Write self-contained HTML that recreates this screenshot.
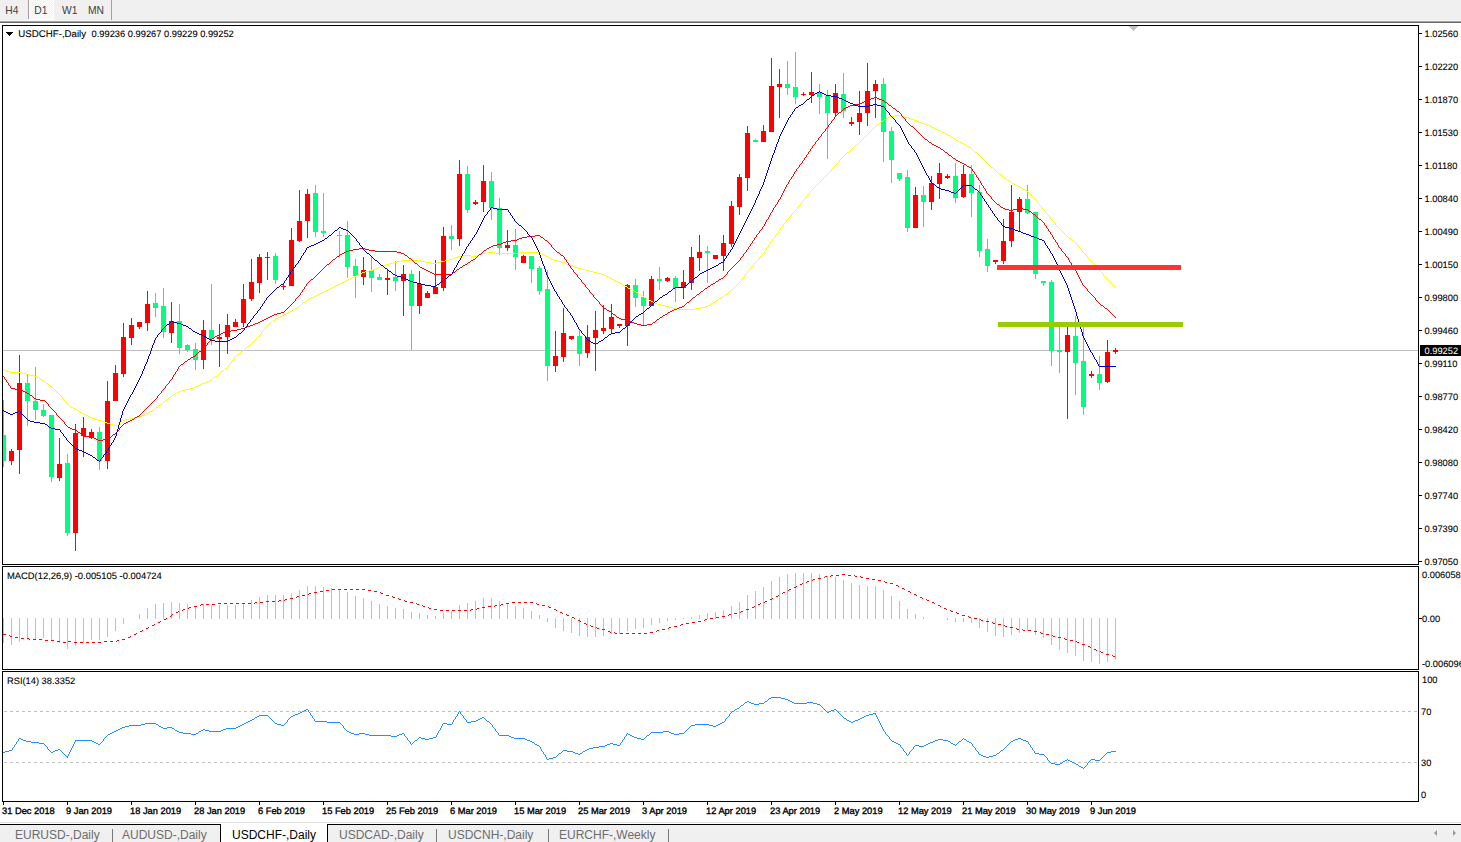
<!DOCTYPE html>
<html><head><meta charset="utf-8"><title>USDCHF-,Daily</title>
<style>
html,body{margin:0;padding:0;background:#fff;}
body{width:1461px;height:842px;overflow:hidden;position:relative;font-family:'Liberation Sans', Arial, sans-serif;}
#tb{position:absolute;left:0;top:0;width:1461px;height:20px;background:#f0f0f0;}
#tb span{position:absolute;top:4.5px;font-size:10.3px;color:#404040;}
.sep{position:absolute;width:1px;background:#a0a0a0;}
#d1{position:absolute;left:29px;top:0;width:24px;height:19px;background:repeating-conic-gradient(#fff 0 25%,#f0f0f0 0 50%) 0 0/2px 2px;border-right:1px solid #fff;border-bottom:1px solid #fff;}
#l1{position:absolute;left:0;top:20px;width:1461px;height:1px;background:#f5f5f5;}
#l2{position:absolute;left:0;top:21px;width:1461px;height:1px;background:#a5a5a5;}
#l3{position:absolute;left:0;top:22px;width:1461px;height:1px;background:#6a6a6a;}
svg{position:absolute;left:0;top:0;}
svg text{font-family:'Liberation Sans', Arial, sans-serif;font-size:9.3px;fill:#000;stroke:#000;stroke-width:0.1px;}
svg text.dt{stroke-width:0.35px;}
#bot1{position:absolute;left:0;top:822px;width:1461px;height:1px;background:#e3e3e3;}
#bot2{position:absolute;left:0;top:824px;width:1461px;height:1px;background:#000;}
#tabs{position:absolute;left:0;top:825px;width:1461px;height:17px;background:#f0f0f0;}
.tab{position:absolute;top:3px;font-size:12px;color:#6d6d6d;white-space:nowrap;}
.tsep{position:absolute;top:4px;width:1px;height:13px;background:#7a7a7a;}
#act{position:absolute;left:220px;top:824px;width:106px;height:18px;background:#fff;border-left:1px solid #000;border-right:1px solid #000;}
.arr{position:absolute;top:830px;width:0;height:0;border-top:3px solid transparent;border-bottom:3px solid transparent;}
</style></head><body>
<div id="tb">
<span style="left:5.3px">H4</span>
<div id="d1"></div>
<span style="left:34.3px">D1</span>
<span style="left:62px">W1</span>
<span style="left:88px">MN</span>
<div class="sep" style="left:28px;top:0;height:19px"></div>
<div class="sep" style="left:111px;top:0;height:21px"></div>
</div>
<div id="l1"></div><div id="l2"></div><div id="l3"></div>
<svg width="1461" height="842" viewBox="0 0 1461 842" shape-rendering="crispEdges">
<defs><clipPath id="cm"><rect x="3" y="26" width="1415" height="538"/></clipPath><clipPath id="cs"><rect x="3" y="567" width="1415" height="102"/></clipPath><clipPath id="cr"><rect x="3" y="672" width="1415" height="129"/></clipPath></defs>
<g clip-path="url(#cm)">
<rect x="3" y="350" width="1415" height="1" fill="#c0c0c0"/>
<rect x="3" y="400" width="1" height="67" fill="#00ff7f"/>
<rect x="1" y="435" width="5" height="26" fill="#00ff7f"/>
<rect x="11" y="449" width="1" height="16" fill="#ff0000"/>
<rect x="9" y="451" width="5" height="10" fill="#ff0000"/>
<rect x="19" y="355" width="1" height="119" fill="#ff0000"/>
<rect x="17" y="383" width="5" height="67" fill="#ff0000"/>
<rect x="27" y="375" width="1" height="51" fill="#00ff7f"/>
<rect x="25" y="383" width="5" height="18" fill="#00ff7f"/>
<rect x="35" y="367" width="1" height="53" fill="#00ff7f"/>
<rect x="33" y="401" width="5" height="9" fill="#00ff7f"/>
<rect x="43" y="404" width="1" height="13" fill="#00ff7f"/>
<rect x="41" y="410" width="5" height="6" fill="#00ff7f"/>
<rect x="51" y="415" width="1" height="67" fill="#00ff7f"/>
<rect x="49" y="415" width="5" height="62" fill="#00ff7f"/>
<rect x="59" y="438" width="1" height="43" fill="#ff0000"/>
<rect x="57" y="464" width="5" height="14" fill="#ff0000"/>
<rect x="67" y="454" width="1" height="82" fill="#00ff7f"/>
<rect x="65" y="463" width="5" height="70" fill="#00ff7f"/>
<rect x="75" y="424" width="1" height="127" fill="#ff0000"/>
<rect x="73" y="433" width="5" height="100" fill="#ff0000"/>
<rect x="83" y="417" width="1" height="40" fill="#ff0000"/>
<rect x="81" y="428" width="5" height="8" fill="#ff0000"/>
<rect x="91" y="429" width="1" height="10" fill="#ff0000"/>
<rect x="89" y="432" width="5" height="6" fill="#ff0000"/>
<rect x="99" y="427" width="1" height="43" fill="#00ff7f"/>
<rect x="97" y="432" width="5" height="29" fill="#00ff7f"/>
<rect x="107" y="381" width="1" height="88" fill="#ff0000"/>
<rect x="105" y="401" width="5" height="60" fill="#ff0000"/>
<rect x="115" y="365" width="1" height="36" fill="#ff0000"/>
<rect x="113" y="373" width="5" height="28" fill="#ff0000"/>
<rect x="123" y="323" width="1" height="54" fill="#ff0000"/>
<rect x="121" y="337" width="5" height="37" fill="#ff0000"/>
<rect x="131" y="318" width="1" height="27" fill="#ff0000"/>
<rect x="129" y="325" width="5" height="13" fill="#ff0000"/>
<rect x="139" y="322" width="1" height="7" fill="#ff0000"/>
<rect x="137" y="322" width="5" height="5" fill="#ff0000"/>
<rect x="147" y="291" width="1" height="40" fill="#ff0000"/>
<rect x="145" y="304" width="5" height="19" fill="#ff0000"/>
<rect x="155" y="293" width="1" height="24" fill="#00ff7f"/>
<rect x="153" y="303" width="5" height="5" fill="#00ff7f"/>
<rect x="163" y="288" width="1" height="50" fill="#00ff7f"/>
<rect x="161" y="306" width="5" height="26" fill="#00ff7f"/>
<rect x="171" y="302" width="1" height="41" fill="#ff0000"/>
<rect x="169" y="321" width="5" height="12" fill="#ff0000"/>
<rect x="179" y="304" width="1" height="50" fill="#00ff7f"/>
<rect x="177" y="321" width="5" height="27" fill="#00ff7f"/>
<rect x="187" y="344" width="1" height="8" fill="#00ff7f"/>
<rect x="185" y="345" width="5" height="5" fill="#00ff7f"/>
<rect x="195" y="343" width="1" height="27" fill="#00ff7f"/>
<rect x="193" y="349" width="5" height="11" fill="#00ff7f"/>
<rect x="203" y="320" width="1" height="49" fill="#ff0000"/>
<rect x="201" y="330" width="5" height="30" fill="#ff0000"/>
<rect x="211" y="284" width="1" height="61" fill="#00ff7f"/>
<rect x="209" y="330" width="5" height="9" fill="#00ff7f"/>
<rect x="219" y="324" width="1" height="43" fill="#ff0000"/>
<rect x="217" y="337" width="5" height="2" fill="#ff0000"/>
<rect x="227" y="314" width="1" height="40" fill="#ff0000"/>
<rect x="225" y="325" width="5" height="12" fill="#ff0000"/>
<rect x="235" y="319" width="1" height="8" fill="#ff0000"/>
<rect x="233" y="322" width="5" height="5" fill="#ff0000"/>
<rect x="243" y="284" width="1" height="43" fill="#ff0000"/>
<rect x="241" y="299" width="5" height="24" fill="#ff0000"/>
<rect x="251" y="259" width="1" height="42" fill="#ff0000"/>
<rect x="249" y="282" width="5" height="17" fill="#ff0000"/>
<rect x="259" y="254" width="1" height="39" fill="#ff0000"/>
<rect x="257" y="257" width="5" height="26" fill="#ff0000"/>
<rect x="267" y="252" width="1" height="28" fill="#ff0000"/>
<rect x="265" y="257" width="5" height="1" fill="#ff0000"/>
<rect x="275" y="253" width="1" height="31" fill="#00ff7f"/>
<rect x="273" y="256" width="5" height="24" fill="#00ff7f"/>
<rect x="283" y="283" width="1" height="7" fill="#ff0000"/>
<rect x="281" y="286" width="5" height="1" fill="#ff0000"/>
<rect x="291" y="228" width="1" height="58" fill="#ff0000"/>
<rect x="289" y="240" width="5" height="46" fill="#ff0000"/>
<rect x="299" y="190" width="1" height="52" fill="#ff0000"/>
<rect x="297" y="221" width="5" height="20" fill="#ff0000"/>
<rect x="307" y="189" width="1" height="49" fill="#ff0000"/>
<rect x="305" y="194" width="5" height="27" fill="#ff0000"/>
<rect x="315" y="185" width="1" height="52" fill="#00ff7f"/>
<rect x="313" y="193" width="5" height="39" fill="#00ff7f"/>
<rect x="323" y="193" width="1" height="44" fill="#00ff7f"/>
<rect x="321" y="231" width="5" height="2" fill="#00ff7f"/>
<rect x="339" y="231" width="1" height="26" fill="#00ff7f"/>
<rect x="337" y="235" width="5" height="1" fill="#00ff7f"/>
<rect x="347" y="221" width="1" height="57" fill="#00ff7f"/>
<rect x="345" y="235" width="5" height="32" fill="#00ff7f"/>
<rect x="355" y="259" width="1" height="39" fill="#00ff7f"/>
<rect x="353" y="266" width="5" height="10" fill="#00ff7f"/>
<rect x="363" y="257" width="1" height="28" fill="#ff0000"/>
<rect x="361" y="270" width="5" height="7" fill="#ff0000"/>
<rect x="371" y="257" width="1" height="35" fill="#00ff7f"/>
<rect x="369" y="270" width="5" height="8" fill="#00ff7f"/>
<rect x="379" y="274" width="1" height="6" fill="#00ff7f"/>
<rect x="377" y="277" width="5" height="3" fill="#00ff7f"/>
<rect x="387" y="270" width="1" height="25" fill="#ff0000"/>
<rect x="385" y="278" width="5" height="2" fill="#ff0000"/>
<rect x="395" y="261" width="1" height="30" fill="#00ff7f"/>
<rect x="393" y="277" width="5" height="4" fill="#00ff7f"/>
<rect x="403" y="265" width="1" height="51" fill="#ff0000"/>
<rect x="401" y="274" width="5" height="7" fill="#ff0000"/>
<rect x="411" y="270" width="1" height="80" fill="#00ff7f"/>
<rect x="409" y="274" width="5" height="32" fill="#00ff7f"/>
<rect x="419" y="271" width="1" height="43" fill="#ff0000"/>
<rect x="417" y="284" width="5" height="22" fill="#ff0000"/>
<rect x="427" y="291" width="1" height="7" fill="#ff0000"/>
<rect x="425" y="293" width="5" height="5" fill="#ff0000"/>
<rect x="435" y="260" width="1" height="34" fill="#ff0000"/>
<rect x="433" y="287" width="5" height="7" fill="#ff0000"/>
<rect x="443" y="227" width="1" height="64" fill="#ff0000"/>
<rect x="441" y="236" width="5" height="52" fill="#ff0000"/>
<rect x="451" y="225" width="1" height="25" fill="#00ff7f"/>
<rect x="449" y="236" width="5" height="3" fill="#00ff7f"/>
<rect x="459" y="160" width="1" height="86" fill="#ff0000"/>
<rect x="457" y="174" width="5" height="65" fill="#ff0000"/>
<rect x="467" y="166" width="1" height="47" fill="#00ff7f"/>
<rect x="465" y="174" width="5" height="36" fill="#00ff7f"/>
<rect x="475" y="200" width="1" height="5" fill="#ff0000"/>
<rect x="473" y="202" width="5" height="2" fill="#ff0000"/>
<rect x="483" y="165" width="1" height="47" fill="#ff0000"/>
<rect x="481" y="181" width="5" height="21" fill="#ff0000"/>
<rect x="491" y="172" width="1" height="48" fill="#00ff7f"/>
<rect x="489" y="181" width="5" height="27" fill="#00ff7f"/>
<rect x="499" y="198" width="1" height="57" fill="#00ff7f"/>
<rect x="497" y="208" width="5" height="40" fill="#00ff7f"/>
<rect x="507" y="230" width="1" height="21" fill="#ff0000"/>
<rect x="505" y="245" width="5" height="3" fill="#ff0000"/>
<rect x="515" y="229" width="1" height="41" fill="#00ff7f"/>
<rect x="513" y="245" width="5" height="12" fill="#00ff7f"/>
<rect x="523" y="255" width="1" height="8" fill="#ff0000"/>
<rect x="521" y="256" width="5" height="7" fill="#ff0000"/>
<rect x="531" y="256" width="1" height="27" fill="#00ff7f"/>
<rect x="529" y="256" width="5" height="13" fill="#00ff7f"/>
<rect x="539" y="266" width="1" height="29" fill="#00ff7f"/>
<rect x="537" y="268" width="5" height="23" fill="#00ff7f"/>
<rect x="547" y="270" width="1" height="111" fill="#00ff7f"/>
<rect x="545" y="289" width="5" height="77" fill="#00ff7f"/>
<rect x="555" y="331" width="1" height="41" fill="#ff0000"/>
<rect x="553" y="356" width="5" height="10" fill="#ff0000"/>
<rect x="563" y="308" width="1" height="54" fill="#ff0000"/>
<rect x="561" y="333" width="5" height="24" fill="#ff0000"/>
<rect x="571" y="336" width="1" height="4" fill="#ff0000"/>
<rect x="569" y="336" width="5" height="3" fill="#ff0000"/>
<rect x="579" y="330" width="1" height="36" fill="#00ff7f"/>
<rect x="577" y="336" width="5" height="18" fill="#00ff7f"/>
<rect x="587" y="325" width="1" height="33" fill="#ff0000"/>
<rect x="585" y="337" width="5" height="16" fill="#ff0000"/>
<rect x="595" y="311" width="1" height="60" fill="#ff0000"/>
<rect x="593" y="330" width="5" height="8" fill="#ff0000"/>
<rect x="603" y="305" width="1" height="29" fill="#ff0000"/>
<rect x="601" y="328" width="5" height="3" fill="#ff0000"/>
<rect x="611" y="304" width="1" height="30" fill="#ff0000"/>
<rect x="609" y="317" width="5" height="12" fill="#ff0000"/>
<rect x="619" y="324" width="1" height="4" fill="#ff0000"/>
<rect x="617" y="324" width="5" height="2" fill="#ff0000"/>
<rect x="627" y="284" width="1" height="62" fill="#ff0000"/>
<rect x="625" y="285" width="5" height="41" fill="#ff0000"/>
<rect x="635" y="279" width="1" height="28" fill="#00ff7f"/>
<rect x="633" y="285" width="5" height="13" fill="#00ff7f"/>
<rect x="643" y="291" width="1" height="34" fill="#00ff7f"/>
<rect x="641" y="297" width="5" height="9" fill="#00ff7f"/>
<rect x="651" y="276" width="1" height="30" fill="#ff0000"/>
<rect x="649" y="279" width="5" height="27" fill="#ff0000"/>
<rect x="659" y="267" width="1" height="23" fill="#00ff7f"/>
<rect x="657" y="279" width="5" height="2" fill="#00ff7f"/>
<rect x="667" y="277" width="1" height="5" fill="#ff0000"/>
<rect x="665" y="278" width="5" height="3" fill="#ff0000"/>
<rect x="675" y="276" width="1" height="26" fill="#00ff7f"/>
<rect x="673" y="278" width="5" height="10" fill="#00ff7f"/>
<rect x="683" y="270" width="1" height="29" fill="#ff0000"/>
<rect x="681" y="282" width="5" height="6" fill="#ff0000"/>
<rect x="691" y="247" width="1" height="43" fill="#ff0000"/>
<rect x="689" y="257" width="5" height="26" fill="#ff0000"/>
<rect x="699" y="235" width="1" height="36" fill="#ff0000"/>
<rect x="697" y="252" width="5" height="6" fill="#ff0000"/>
<rect x="707" y="246" width="1" height="37" fill="#00ff7f"/>
<rect x="705" y="251" width="5" height="2" fill="#00ff7f"/>
<rect x="715" y="255" width="1" height="4" fill="#ff0000"/>
<rect x="713" y="255" width="5" height="4" fill="#ff0000"/>
<rect x="723" y="235" width="1" height="36" fill="#ff0000"/>
<rect x="721" y="243" width="5" height="13" fill="#ff0000"/>
<rect x="731" y="201" width="1" height="46" fill="#ff0000"/>
<rect x="729" y="206" width="5" height="38" fill="#ff0000"/>
<rect x="739" y="174" width="1" height="41" fill="#ff0000"/>
<rect x="737" y="177" width="5" height="30" fill="#ff0000"/>
<rect x="747" y="126" width="1" height="65" fill="#ff0000"/>
<rect x="745" y="133" width="5" height="45" fill="#ff0000"/>
<rect x="755" y="139" width="1" height="3" fill="#00ff7f"/>
<rect x="753" y="140" width="5" height="2" fill="#00ff7f"/>
<rect x="763" y="125" width="1" height="17" fill="#ff0000"/>
<rect x="761" y="131" width="5" height="11" fill="#ff0000"/>
<rect x="771" y="58" width="1" height="74" fill="#ff0000"/>
<rect x="769" y="86" width="5" height="46" fill="#ff0000"/>
<rect x="779" y="69" width="1" height="49" fill="#ff0000"/>
<rect x="777" y="84" width="5" height="3" fill="#ff0000"/>
<rect x="787" y="61" width="1" height="34" fill="#00ff7f"/>
<rect x="785" y="84" width="5" height="4" fill="#00ff7f"/>
<rect x="795" y="52" width="1" height="52" fill="#00ff7f"/>
<rect x="793" y="87" width="5" height="10" fill="#00ff7f"/>
<rect x="803" y="92" width="1" height="4" fill="#ff0000"/>
<rect x="801" y="94" width="5" height="1" fill="#ff0000"/>
<rect x="811" y="72" width="1" height="31" fill="#ff0000"/>
<rect x="809" y="92" width="5" height="3" fill="#ff0000"/>
<rect x="819" y="84" width="1" height="30" fill="#00ff7f"/>
<rect x="817" y="92" width="5" height="5" fill="#00ff7f"/>
<rect x="827" y="90" width="1" height="69" fill="#00ff7f"/>
<rect x="825" y="96" width="5" height="17" fill="#00ff7f"/>
<rect x="835" y="84" width="1" height="32" fill="#ff0000"/>
<rect x="833" y="93" width="5" height="20" fill="#ff0000"/>
<rect x="843" y="73" width="1" height="45" fill="#00ff7f"/>
<rect x="841" y="94" width="5" height="17" fill="#00ff7f"/>
<rect x="851" y="117" width="1" height="9" fill="#ff0000"/>
<rect x="849" y="122" width="5" height="2" fill="#ff0000"/>
<rect x="859" y="91" width="1" height="44" fill="#ff0000"/>
<rect x="857" y="113" width="5" height="9" fill="#ff0000"/>
<rect x="867" y="63" width="1" height="63" fill="#ff0000"/>
<rect x="865" y="91" width="5" height="22" fill="#ff0000"/>
<rect x="875" y="80" width="1" height="38" fill="#ff0000"/>
<rect x="873" y="84" width="5" height="7" fill="#ff0000"/>
<rect x="883" y="78" width="1" height="84" fill="#00ff7f"/>
<rect x="881" y="84" width="5" height="48" fill="#00ff7f"/>
<rect x="891" y="127" width="1" height="56" fill="#00ff7f"/>
<rect x="889" y="131" width="5" height="29" fill="#00ff7f"/>
<rect x="899" y="173" width="1" height="8" fill="#00ff7f"/>
<rect x="897" y="173" width="5" height="6" fill="#00ff7f"/>
<rect x="907" y="170" width="1" height="62" fill="#00ff7f"/>
<rect x="905" y="177" width="5" height="51" fill="#00ff7f"/>
<rect x="915" y="187" width="1" height="41" fill="#ff0000"/>
<rect x="913" y="195" width="5" height="33" fill="#ff0000"/>
<rect x="923" y="186" width="1" height="41" fill="#00ff7f"/>
<rect x="921" y="195" width="5" height="7" fill="#00ff7f"/>
<rect x="931" y="176" width="1" height="34" fill="#ff0000"/>
<rect x="929" y="183" width="5" height="19" fill="#ff0000"/>
<rect x="939" y="163" width="1" height="36" fill="#ff0000"/>
<rect x="937" y="173" width="5" height="11" fill="#ff0000"/>
<rect x="947" y="174" width="1" height="5" fill="#ff0000"/>
<rect x="945" y="176" width="5" height="2" fill="#ff0000"/>
<rect x="955" y="163" width="1" height="40" fill="#00ff7f"/>
<rect x="953" y="176" width="5" height="22" fill="#00ff7f"/>
<rect x="963" y="165" width="1" height="33" fill="#ff0000"/>
<rect x="961" y="174" width="5" height="23" fill="#ff0000"/>
<rect x="971" y="165" width="1" height="52" fill="#00ff7f"/>
<rect x="969" y="174" width="5" height="19" fill="#00ff7f"/>
<rect x="979" y="185" width="1" height="72" fill="#00ff7f"/>
<rect x="977" y="192" width="5" height="59" fill="#00ff7f"/>
<rect x="987" y="239" width="1" height="33" fill="#00ff7f"/>
<rect x="985" y="249" width="5" height="17" fill="#00ff7f"/>
<rect x="995" y="260" width="1" height="4" fill="#ff0000"/>
<rect x="993" y="260" width="5" height="2" fill="#ff0000"/>
<rect x="1003" y="219" width="1" height="45" fill="#ff0000"/>
<rect x="1001" y="241" width="5" height="20" fill="#ff0000"/>
<rect x="1011" y="185" width="1" height="62" fill="#ff0000"/>
<rect x="1009" y="212" width="5" height="29" fill="#ff0000"/>
<rect x="1019" y="197" width="1" height="35" fill="#ff0000"/>
<rect x="1017" y="199" width="5" height="13" fill="#ff0000"/>
<rect x="1027" y="185" width="1" height="29" fill="#00ff7f"/>
<rect x="1025" y="199" width="5" height="14" fill="#00ff7f"/>
<rect x="1035" y="212" width="1" height="67" fill="#00ff7f"/>
<rect x="1033" y="212" width="5" height="62" fill="#00ff7f"/>
<rect x="1043" y="281" width="1" height="5" fill="#00ff7f"/>
<rect x="1041" y="281" width="5" height="2" fill="#00ff7f"/>
<rect x="1051" y="280" width="1" height="86" fill="#00ff7f"/>
<rect x="1049" y="282" width="5" height="69" fill="#00ff7f"/>
<rect x="1059" y="327" width="1" height="46" fill="#00ff7f"/>
<rect x="1057" y="350" width="5" height="2" fill="#00ff7f"/>
<rect x="1067" y="327" width="1" height="92" fill="#ff0000"/>
<rect x="1065" y="335" width="5" height="17" fill="#ff0000"/>
<rect x="1075" y="316" width="1" height="79" fill="#00ff7f"/>
<rect x="1073" y="336" width="5" height="27" fill="#00ff7f"/>
<rect x="1083" y="327" width="1" height="88" fill="#00ff7f"/>
<rect x="1081" y="361" width="5" height="46" fill="#00ff7f"/>
<rect x="1091" y="371" width="1" height="7" fill="#ff0000"/>
<rect x="1089" y="374" width="5" height="2" fill="#ff0000"/>
<rect x="1099" y="356" width="1" height="34" fill="#00ff7f"/>
<rect x="1097" y="374" width="5" height="9" fill="#00ff7f"/>
<rect x="1107" y="340" width="1" height="43" fill="#ff0000"/>
<rect x="1105" y="352" width="5" height="30" fill="#ff0000"/>
<rect x="1115" y="348" width="1" height="6" fill="#ff0000"/>
<rect x="1113" y="350" width="5" height="2" fill="#ff0000"/>
<path d="M895 115.5h6M890 116.5h5M901 116.5h4M888 117.5h2M905 117.5h4M886 118.5h2M909 118.5h2M884 119.5h2M911 119.5h3M883 120.5h1M914 120.5h3M881 121.5h2M917 121.5h2M880 122.5h1M919 122.5h3M879 123.5h1M922 123.5h3M877 124.5h2M925 124.5h2M876 125.5h1M927 125.5h3M875 126.5h1M930 126.5h2M874 127.5h1M932 127.5h2M873 128.5h1M934 128.5h2M872 129.5h1M936 129.5h2M871 130.5h1M938 130.5h2M870 131.5h1M940 131.5h2M869 132.5h1M942 132.5h2M868 133.5h1M944 133.5h2M867 134.5h1M946 134.5h2M866 135.5h1M948 135.5h2M865 136.5h1M950 136.5h1M864 137.5h1M951 137.5h2M863 138.5h1M953 138.5h2M862 139.5h1M955 139.5h1M861 140.5h1M956 140.5h2M860 141.5h1M958 141.5h2M859 142.5h1M960 142.5h2M858 143.5h1M962 143.5h2M857 144.5h1M964 144.5h2M855 145.5h2M966 145.5h1M854 146.5h1M967 146.5h2M853 147.5h1M969 147.5h2M852 148.5h1M971 148.5h1M851 149.5h1M972 149.5h1M850 150.5h1M973 150.5h1M849 151.5h1M974 151.5h1M847 152.5h2M975 152.5h2M846 153.5h1M977 153.5h1M845 154.5h1M978 154.5h1M844 155.5h1M979 155.5h1M843 156.5h1M980 156.5h1M842 157.5h1M981 157.5h1M841 158.5h1M982 158.5h1M840 159.5h1M983 159.5h1M839 160.5h1M984 160.5h1M839 161.5h1M985 161.5h1M838 162.5h1M986 162.5h1M837 163.5h1M987 163.5h1M836 164.5h1M988 164.5h1M835 165.5h1M989 165.5h1M834 166.5h1M990 166.5h1M833 167.5h1M991 167.5h2M832 168.5h1M993 168.5h1M831 169.5h1M994 169.5h1M831 170.5h1M995 170.5h1M830 171.5h1M996 171.5h1M829 172.5h1M997 172.5h1M828 173.5h1M998 173.5h1M827 174.5h1M999 174.5h2M826 175.5h1M1001 175.5h1M825 176.5h1M1002 176.5h1M824 177.5h1M1003 177.5h1M823 178.5h1M1004 178.5h2M822 179.5h1M1006 179.5h1M821 180.5h1M1007 180.5h2M820 181.5h1M1009 181.5h2M819 182.5h1M1011 182.5h1M818 183.5h1M1012 183.5h2M817 184.5h1M1014 184.5h2M816 185.5h1M1016 185.5h2M815 186.5h1M1018 186.5h2M814 187.5h1M1020 187.5h2M813 188.5h1M1022 188.5h1M812 189.5h1M1023 189.5h2M811 190.5h1M1025 190.5h2M810 191.5h1M1027 191.5h1M809 192.5h1M1028 192.5h1M809 193.5h1M1029 193.5h1M808 194.5h1M1030 194.5h1M807 195.5h1M1031 195.5h1M806 196.5h1M1032 196.5h1M805 197.5h1M1033 197.5h1M805 198.5h1M1034 198.5h1M804 199.5h1M1035 199.5h1M803 200.5h1M1036 200.5h1M802 201.5h1M1037 201.5h1M801 202.5h1M1037 202.5h1M801 203.5h1M1038 203.5h1M800 204.5h1M1039 204.5h1M799 205.5h1M1040 205.5h1M798 206.5h1M1041 206.5h1M797 207.5h1M1041 207.5h1M797 208.5h1M1042 208.5h1M796 209.5h1M1043 209.5h1M795 210.5h1M1044 210.5h1M794 211.5h1M1045 211.5h1M793 212.5h1M1045 212.5h1M792 213.5h1M1046 213.5h1M791 214.5h1M1047 214.5h1M791 215.5h1M1048 215.5h1M790 216.5h1M1049 216.5h1M789 217.5h1M1049 217.5h1M788 218.5h1M1050 218.5h1M787 219.5h1M1051 219.5h1M786 220.5h1M1052 220.5h1M786 221.5h1M1053 221.5h1M785 222.5h1M1054 222.5h1M784 223.5h1M1055 223.5h1M783 224.5h1M1055 224.5h1M783 225.5h1M1056 225.5h1M782 226.5h1M1057 226.5h1M781 227.5h1M1058 227.5h1M780 228.5h1M1059 228.5h1M780 229.5h1M1060 229.5h1M779 230.5h1M1061 230.5h1M778 231.5h1M1062 231.5h1M778 232.5h1M1063 232.5h1M777 233.5h1M1064 233.5h1M776 234.5h1M1065 234.5h1M775 235.5h1M1066 235.5h1M775 236.5h1M1067 236.5h1M774 237.5h1M1068 237.5h1M773 238.5h1M1069 238.5h2M772 239.5h1M1071 239.5h1M772 240.5h1M1072 240.5h1M771 241.5h1M1073 241.5h2M770 242.5h1M1075 242.5h1M770 243.5h1M1076 243.5h1M769 244.5h1M1077 244.5h1M768 245.5h1M1077 245.5h1M768 246.5h1M1078 246.5h1M767 247.5h1M1079 247.5h1M766 248.5h1M1080 248.5h1M766 249.5h1M1081 249.5h1M765 250.5h1M1081 250.5h1M764 251.5h1M1082 251.5h1M487 252.5h8M519 252.5h21M764 252.5h1M1083 252.5h1M482 253.5h5M495 253.5h24M540 253.5h2M763 253.5h1M1084 253.5h1M479 254.5h3M542 254.5h2M762 254.5h1M1085 254.5h1M463 255.5h8M477 255.5h2M544 255.5h2M761 255.5h1M1086 255.5h1M458 256.5h5M471 256.5h6M546 256.5h2M760 256.5h1M1087 256.5h1M455 257.5h3M548 257.5h2M759 257.5h1M1087 257.5h1M453 258.5h2M550 258.5h2M759 258.5h1M1088 258.5h1M449 259.5h4M552 259.5h2M758 259.5h1M1089 259.5h1M401 260.5h20M445 260.5h4M554 260.5h3M757 260.5h1M1090 260.5h1M397 261.5h4M421 261.5h4M441 261.5h4M557 261.5h4M756 261.5h1M1091 261.5h1M393 262.5h4M425 262.5h6M437 262.5h4M561 262.5h4M755 262.5h1M1092 262.5h1M389 263.5h4M431 263.5h6M565 263.5h2M754 263.5h1M1093 263.5h1M386 264.5h3M567 264.5h3M753 264.5h1M1094 264.5h1M383 265.5h3M570 265.5h3M753 265.5h1M1095 265.5h1M381 266.5h2M573 266.5h2M752 266.5h1M1095 266.5h1M378 267.5h3M575 267.5h3M751 267.5h1M1096 267.5h1M375 268.5h3M578 268.5h3M750 268.5h1M1097 268.5h1M373 269.5h2M581 269.5h4M749 269.5h1M1098 269.5h1M369 270.5h4M585 270.5h4M749 270.5h1M1099 270.5h1M365 271.5h4M589 271.5h4M748 271.5h1M1100 271.5h1M362 272.5h3M593 272.5h4M747 272.5h1M1101 272.5h1M360 273.5h2M597 273.5h4M746 273.5h1M1102 273.5h1M358 274.5h2M601 274.5h3M745 274.5h1M1103 274.5h1M356 275.5h2M604 275.5h2M745 275.5h1M1103 275.5h1M354 276.5h2M606 276.5h2M744 276.5h1M1104 276.5h1M352 277.5h2M608 277.5h2M743 277.5h1M1105 277.5h1M350 278.5h2M610 278.5h2M742 278.5h1M1106 278.5h1M348 279.5h2M612 279.5h2M741 279.5h1M1107 279.5h1M346 280.5h2M614 280.5h2M741 280.5h1M1108 280.5h1M344 281.5h2M616 281.5h2M740 281.5h1M1109 281.5h1M342 282.5h2M618 282.5h2M739 282.5h1M1110 282.5h1M340 283.5h2M620 283.5h2M738 283.5h1M1111 283.5h1M338 284.5h2M622 284.5h1M737 284.5h1M1112 284.5h1M336 285.5h2M623 285.5h2M736 285.5h1M1113 285.5h1M334 286.5h2M625 286.5h2M735 286.5h1M1114 286.5h1M332 287.5h2M627 287.5h1M734 287.5h1M1115 287.5h1M330 288.5h2M628 288.5h2M733 288.5h1M328 289.5h2M630 289.5h2M732 289.5h1M326 290.5h2M632 290.5h2M731 290.5h1M324 291.5h2M634 291.5h2M729 291.5h2M322 292.5h2M636 292.5h2M728 292.5h1M320 293.5h2M638 293.5h1M727 293.5h1M318 294.5h2M639 294.5h2M725 294.5h2M316 295.5h2M641 295.5h2M724 295.5h1M314 296.5h2M643 296.5h1M723 296.5h1M311 297.5h3M644 297.5h2M721 297.5h2M309 298.5h2M646 298.5h1M719 298.5h2M307 299.5h2M647 299.5h2M718 299.5h1M306 300.5h1M649 300.5h2M716 300.5h2M305 301.5h1M651 301.5h2M715 301.5h1M303 302.5h2M653 302.5h2M713 302.5h2M302 303.5h1M655 303.5h3M711 303.5h2M301 304.5h1M658 304.5h3M710 304.5h1M300 305.5h1M661 305.5h4M708 305.5h2M299 306.5h1M665 306.5h4M705 306.5h3M297 307.5h2M669 307.5h4M701 307.5h4M295 308.5h2M673 308.5h6M695 308.5h6M294 309.5h1M679 309.5h16M292 310.5h2M290 311.5h2M288 312.5h2M286 313.5h2M284 314.5h2M282 315.5h2M280 316.5h2M278 317.5h2M276 318.5h2M275 319.5h1M273 320.5h2M272 321.5h1M271 322.5h1M269 323.5h2M268 324.5h1M267 325.5h1M266 326.5h1M265 327.5h1M265 328.5h1M264 329.5h1M263 330.5h1M262 331.5h1M261 332.5h1M261 333.5h1M260 334.5h1M259 335.5h1M258 336.5h1M257 337.5h1M256 338.5h1M255 339.5h1M254 340.5h1M253 341.5h1M252 342.5h1M251 343.5h1M250 344.5h1M249 345.5h1M247 346.5h2M246 347.5h1M245 348.5h1M244 349.5h1M243 350.5h1M241 351.5h2M240 352.5h1M239 353.5h1M237 354.5h2M236 355.5h1M235 356.5h1M234 357.5h1M234 358.5h1M233 359.5h1M232 360.5h1M231 361.5h1M231 362.5h1M230 363.5h1M229 364.5h1M228 365.5h1M228 366.5h1M227 367.5h1M225 368.5h2M3 369.5h2M224 369.5h1M5 370.5h2M223 370.5h1M7 371.5h3M221 371.5h2M10 372.5h12M220 372.5h1M22 373.5h4M219 373.5h1M26 374.5h4M218 374.5h1M30 375.5h4M217 375.5h1M34 376.5h3M215 376.5h2M37 377.5h2M214 377.5h1M39 378.5h1M213 378.5h1M40 379.5h2M212 379.5h1M42 380.5h2M210 380.5h2M44 381.5h1M207 381.5h3M45 382.5h1M205 382.5h2M46 383.5h2M202 383.5h3M48 384.5h1M200 384.5h2M49 385.5h1M198 385.5h2M50 386.5h2M196 386.5h2M52 387.5h1M193 387.5h3M53 388.5h1M189 388.5h4M54 389.5h1M185 389.5h4M55 390.5h1M181 390.5h4M56 391.5h1M179 391.5h2M57 392.5h1M177 392.5h2M58 393.5h1M175 393.5h2M59 394.5h1M174 394.5h1M60 395.5h1M172 395.5h2M61 396.5h1M171 396.5h1M62 397.5h1M169 397.5h2M62 398.5h1M168 398.5h1M63 399.5h1M167 399.5h1M64 400.5h1M165 400.5h2M65 401.5h1M164 401.5h1M66 402.5h1M163 402.5h1M66 403.5h1M162 403.5h1M67 404.5h1M160 404.5h2M68 405.5h1M159 405.5h1M69 406.5h2M158 406.5h1M71 407.5h2M156 407.5h2M73 408.5h2M155 408.5h1M75 409.5h2M154 409.5h1M77 410.5h2M152 410.5h2M79 411.5h1M150 411.5h2M80 412.5h2M148 412.5h2M82 413.5h2M146 413.5h2M84 414.5h2M144 414.5h2M86 415.5h2M142 415.5h2M88 416.5h2M138 416.5h4M90 417.5h2M134 417.5h4M92 418.5h3M129 418.5h5M95 419.5h3M125 419.5h4M98 420.5h3M123 420.5h2M101 421.5h3M121 421.5h2M104 422.5h3M120 422.5h1M107 423.5h3M119 423.5h1M110 424.5h4M117 424.5h2M114 425.5h3" fill="none" stroke="#ffff00" stroke-width="1"/>
<path d="M874 97.5h3M871 98.5h3M877 98.5h2M869 99.5h2M879 99.5h3M866 100.5h3M882 100.5h2M864 101.5h2M884 101.5h1M862 102.5h2M885 102.5h2M860 103.5h2M887 103.5h1M855 104.5h5M888 104.5h1M850 105.5h5M889 105.5h2M848 106.5h2M891 106.5h1M846 107.5h2M892 107.5h1M844 108.5h2M893 108.5h2M843 109.5h1M895 109.5h1M842 110.5h1M896 110.5h1M841 111.5h1M897 111.5h2M839 112.5h2M899 112.5h1M838 113.5h1M900 113.5h1M837 114.5h1M901 114.5h1M836 115.5h1M901 115.5h1M835 116.5h1M902 116.5h1M834 117.5h1M903 117.5h1M834 118.5h1M904 118.5h1M833 119.5h1M905 119.5h1M832 120.5h1M905 120.5h1M831 121.5h1M906 121.5h1M831 122.5h1M907 122.5h1M830 123.5h1M908 123.5h1M829 124.5h1M909 124.5h1M828 125.5h1M910 125.5h1M828 126.5h1M911 126.5h2M827 127.5h1M913 127.5h1M826 128.5h1M914 128.5h1M825 129.5h1M915 129.5h1M825 130.5h1M916 130.5h1M824 131.5h1M917 131.5h1M823 132.5h1M918 132.5h1M822 133.5h1M919 133.5h1M821 134.5h1M920 134.5h1M821 135.5h1M921 135.5h1M820 136.5h1M922 136.5h1M819 137.5h1M923 137.5h1M818 138.5h1M924 138.5h1M818 139.5h1M925 139.5h2M817 140.5h1M927 140.5h1M816 141.5h1M928 141.5h1M815 142.5h1M929 142.5h2M815 143.5h1M931 143.5h1M814 144.5h1M932 144.5h2M813 145.5h1M934 145.5h2M812 146.5h1M936 146.5h2M812 147.5h1M938 147.5h2M811 148.5h1M940 148.5h1M810 149.5h1M941 149.5h2M810 150.5h1M943 150.5h1M809 151.5h1M944 151.5h1M808 152.5h1M945 152.5h2M808 153.5h1M947 153.5h1M807 154.5h1M948 154.5h1M806 155.5h1M949 155.5h2M806 156.5h1M951 156.5h1M805 157.5h1M952 157.5h1M804 158.5h1M953 158.5h2M804 159.5h1M955 159.5h1M803 160.5h1M956 160.5h2M802 161.5h1M958 161.5h2M802 162.5h1M960 162.5h2M801 163.5h1M962 163.5h2M800 164.5h1M964 164.5h2M799 165.5h1M966 165.5h1M799 166.5h1M967 166.5h2M798 167.5h1M969 167.5h2M797 168.5h1M971 168.5h1M796 169.5h1M972 169.5h1M796 170.5h1M972 170.5h1M795 171.5h1M973 171.5h1M794 172.5h1M974 172.5h1M794 173.5h1M974 173.5h1M793 174.5h1M975 174.5h1M793 175.5h1M976 175.5h1M792 176.5h1M976 176.5h1M791 177.5h1M977 177.5h1M791 178.5h1M978 178.5h1M790 179.5h1M978 179.5h1M789 180.5h1M979 180.5h1M789 181.5h1M980 181.5h1M788 182.5h1M980 182.5h1M788 183.5h1M981 183.5h1M787 184.5h1M981 184.5h1M786 185.5h1M982 185.5h1M786 186.5h1M983 186.5h1M785 187.5h1M983 187.5h1M785 188.5h1M984 188.5h1M784 189.5h1M985 189.5h1M784 190.5h1M985 190.5h1M783 191.5h1M986 191.5h1M783 192.5h1M986 192.5h1M782 193.5h1M987 193.5h1M782 194.5h1M988 194.5h1M781 195.5h1M989 195.5h1M781 196.5h1M990 196.5h1M780 197.5h1M991 197.5h1M780 198.5h1M991 198.5h1M779 199.5h1M992 199.5h1M778 200.5h1M993 200.5h1M778 201.5h1M994 201.5h1M777 202.5h1M995 202.5h1M777 203.5h1M996 203.5h1M776 204.5h1M997 204.5h2M775 205.5h1M999 205.5h1M775 206.5h1M1000 206.5h1M774 207.5h1M1001 207.5h2M773 208.5h1M1003 208.5h2M1017 208.5h6M773 209.5h1M1005 209.5h4M1013 209.5h4M1023 209.5h5M772 210.5h1M1009 210.5h4M1028 210.5h1M772 211.5h1M1029 211.5h2M771 212.5h1M1031 212.5h1M770 213.5h1M1032 213.5h1M770 214.5h1M1033 214.5h2M769 215.5h1M1035 215.5h1M769 216.5h1M1036 216.5h1M768 217.5h1M1037 217.5h1M768 218.5h1M1038 218.5h1M767 219.5h1M1039 219.5h2M766 220.5h1M1041 220.5h1M766 221.5h1M1042 221.5h1M765 222.5h1M1043 222.5h1M765 223.5h1M1044 223.5h1M764 224.5h1M1044 224.5h1M764 225.5h1M1045 225.5h1M763 226.5h1M1046 226.5h1M762 227.5h1M1046 227.5h1M762 228.5h1M1047 228.5h1M761 229.5h1M1048 229.5h1M760 230.5h1M1048 230.5h1M759 231.5h1M1049 231.5h1M759 232.5h1M1050 232.5h1M758 233.5h1M1050 233.5h1M757 234.5h1M1051 234.5h1M535 235.5h5M756 235.5h1M1052 235.5h1M527 236.5h8M540 236.5h1M756 236.5h1M1052 236.5h1M522 237.5h5M541 237.5h2M755 237.5h1M1053 237.5h1M519 238.5h3M543 238.5h1M754 238.5h1M1053 238.5h1M517 239.5h2M544 239.5h1M754 239.5h1M1054 239.5h1M511 240.5h6M545 240.5h2M753 240.5h1M1055 240.5h1M506 241.5h5M547 241.5h1M752 241.5h1M1055 241.5h1M503 242.5h3M548 242.5h1M752 242.5h1M1056 242.5h1M501 243.5h2M549 243.5h1M751 243.5h1M1057 243.5h1M497 244.5h4M550 244.5h1M750 244.5h1M1057 244.5h1M493 245.5h4M551 245.5h1M750 245.5h1M1058 245.5h1M491 246.5h2M551 246.5h1M749 246.5h1M1058 246.5h1M489 247.5h2M552 247.5h1M748 247.5h1M1059 247.5h1M359 248.5h6M487 248.5h2M553 248.5h1M748 248.5h1M1060 248.5h1M353 249.5h6M365 249.5h4M486 249.5h1M554 249.5h1M747 249.5h1M1061 249.5h1M349 250.5h4M369 250.5h6M484 250.5h2M555 250.5h1M746 250.5h1M1061 250.5h1M346 251.5h3M375 251.5h22M483 251.5h1M556 251.5h1M746 251.5h1M1062 251.5h1M344 252.5h2M397 252.5h4M482 252.5h1M557 252.5h2M745 252.5h1M1063 252.5h1M342 253.5h2M401 253.5h3M481 253.5h1M559 253.5h1M744 253.5h1M1064 253.5h1M340 254.5h2M404 254.5h1M479 254.5h2M560 254.5h1M743 254.5h1M1065 254.5h1M339 255.5h1M405 255.5h2M478 255.5h1M561 255.5h2M743 255.5h1M1065 255.5h1M337 256.5h2M407 256.5h1M477 256.5h1M563 256.5h1M742 256.5h1M1066 256.5h1M336 257.5h1M408 257.5h1M476 257.5h1M564 257.5h1M741 257.5h1M1067 257.5h1M335 258.5h1M409 258.5h2M475 258.5h1M564 258.5h1M740 258.5h1M1068 258.5h1M333 259.5h2M411 259.5h1M473 259.5h2M565 259.5h1M740 259.5h1M1068 259.5h1M332 260.5h1M412 260.5h1M471 260.5h2M566 260.5h1M739 260.5h1M1069 260.5h1M331 261.5h1M413 261.5h1M470 261.5h1M566 261.5h1M738 261.5h1M1069 261.5h1M330 262.5h1M414 262.5h1M468 262.5h2M567 262.5h1M737 262.5h1M1070 262.5h1M329 263.5h1M415 263.5h2M467 263.5h1M568 263.5h1M736 263.5h1M1071 263.5h1M327 264.5h2M417 264.5h1M465 264.5h2M568 264.5h1M735 264.5h1M1071 264.5h1M326 265.5h1M418 265.5h1M463 265.5h2M569 265.5h1M734 265.5h1M1072 265.5h1M325 266.5h1M419 266.5h1M462 266.5h1M570 266.5h1M733 266.5h1M1073 266.5h1M324 267.5h1M420 267.5h2M460 267.5h2M570 267.5h1M732 267.5h1M1073 267.5h1M323 268.5h1M422 268.5h2M459 268.5h1M571 268.5h1M731 268.5h1M1074 268.5h1M322 269.5h1M424 269.5h2M457 269.5h2M572 269.5h1M730 269.5h1M1074 269.5h1M321 270.5h1M426 270.5h2M456 270.5h1M573 270.5h1M729 270.5h1M1075 270.5h1M320 271.5h1M428 271.5h2M455 271.5h1M573 271.5h1M728 271.5h1M1076 271.5h1M319 272.5h1M430 272.5h2M453 272.5h2M574 272.5h1M727 272.5h1M1076 272.5h1M318 273.5h1M432 273.5h2M452 273.5h1M575 273.5h1M727 273.5h1M1077 273.5h1M317 274.5h1M434 274.5h18M576 274.5h1M726 274.5h1M1077 274.5h1M316 275.5h1M577 275.5h1M725 275.5h1M1078 275.5h1M315 276.5h1M577 276.5h1M724 276.5h1M1078 276.5h1M314 277.5h1M578 277.5h1M723 277.5h1M1079 277.5h1M313 278.5h1M579 278.5h1M721 278.5h2M1079 278.5h1M311 279.5h2M580 279.5h1M719 279.5h2M1080 279.5h1M310 280.5h1M581 280.5h1M718 280.5h1M1080 280.5h1M309 281.5h1M581 281.5h1M716 281.5h2M1081 281.5h1M308 282.5h1M582 282.5h1M715 282.5h1M1081 282.5h1M307 283.5h1M583 283.5h1M713 283.5h2M1082 283.5h1M306 284.5h1M584 284.5h1M711 284.5h2M1082 284.5h1M306 285.5h1M585 285.5h1M710 285.5h1M1083 285.5h1M305 286.5h1M585 286.5h1M708 286.5h2M1084 286.5h1M304 287.5h1M586 287.5h1M707 287.5h1M1085 287.5h1M304 288.5h1M587 288.5h1M705 288.5h2M1086 288.5h1M303 289.5h1M588 289.5h1M704 289.5h1M1087 289.5h1M302 290.5h1M589 290.5h1M703 290.5h1M1087 290.5h1M302 291.5h1M589 291.5h1M701 291.5h2M1088 291.5h1M301 292.5h1M590 292.5h1M700 292.5h1M1089 292.5h1M300 293.5h1M591 293.5h1M699 293.5h1M1090 293.5h1M300 294.5h1M592 294.5h1M697 294.5h2M1091 294.5h1M299 295.5h1M593 295.5h1M696 295.5h1M1092 295.5h1M298 296.5h1M593 296.5h1M695 296.5h1M1093 296.5h1M297 297.5h1M594 297.5h1M693 297.5h2M1094 297.5h1M296 298.5h1M595 298.5h1M692 298.5h1M1095 298.5h1M295 299.5h1M596 299.5h1M691 299.5h1M1095 299.5h1M295 300.5h1M597 300.5h1M690 300.5h1M1096 300.5h1M294 301.5h1M598 301.5h1M689 301.5h1M1097 301.5h1M293 302.5h1M599 302.5h1M687 302.5h2M1098 302.5h1M292 303.5h1M599 303.5h1M686 303.5h1M1099 303.5h1M291 304.5h1M600 304.5h1M685 304.5h1M1100 304.5h1M290 305.5h1M601 305.5h1M684 305.5h1M1101 305.5h2M289 306.5h1M602 306.5h1M682 306.5h2M1103 306.5h1M288 307.5h1M603 307.5h1M679 307.5h3M1104 307.5h1M287 308.5h1M604 308.5h2M677 308.5h2M1105 308.5h2M286 309.5h1M606 309.5h1M674 309.5h3M1107 309.5h1M285 310.5h1M607 310.5h2M672 310.5h2M1108 310.5h1M284 311.5h1M609 311.5h2M670 311.5h2M1109 311.5h1M281 312.5h3M611 312.5h1M668 312.5h2M1110 312.5h1M277 313.5h4M612 313.5h1M667 313.5h1M1111 313.5h1M274 314.5h3M613 314.5h2M665 314.5h2M1112 314.5h1M272 315.5h2M615 315.5h1M663 315.5h2M1113 315.5h1M270 316.5h2M616 316.5h1M662 316.5h1M1114 316.5h1M268 317.5h2M617 317.5h2M660 317.5h2M1115 317.5h1M266 318.5h2M619 318.5h2M659 318.5h1M264 319.5h2M621 319.5h4M657 319.5h2M262 320.5h2M625 320.5h4M656 320.5h1M260 321.5h2M629 321.5h2M655 321.5h1M258 322.5h2M631 322.5h3M653 322.5h2M255 323.5h3M634 323.5h3M652 323.5h1M253 324.5h2M637 324.5h4M647 324.5h5M250 325.5h3M641 325.5h6M247 326.5h3M245 327.5h2M241 328.5h4M237 329.5h4M231 330.5h6M226 331.5h5M223 332.5h3M221 333.5h2M219 334.5h2M217 335.5h2M215 336.5h2M214 337.5h1M212 338.5h2M211 339.5h1M210 340.5h1M209 341.5h1M208 342.5h1M207 343.5h1M207 344.5h1M206 345.5h1M205 346.5h1M204 347.5h1M203 348.5h1M202 349.5h1M201 350.5h1M199 351.5h2M198 352.5h1M197 353.5h1M196 354.5h1M195 355.5h1M193 356.5h2M191 357.5h2M190 358.5h1M188 359.5h2M187 360.5h1M185 361.5h2M184 362.5h1M183 363.5h1M181 364.5h2M180 365.5h1M179 366.5h1M178 367.5h1M178 368.5h1M177 369.5h1M177 370.5h1M176 371.5h1M175 372.5h1M175 373.5h1M174 374.5h1M173 375.5h1M3 376.5h1M173 376.5h1M4 377.5h1M172 377.5h1M4 378.5h1M172 378.5h1M5 379.5h1M171 379.5h1M6 380.5h1M170 380.5h1M6 381.5h1M169 381.5h1M7 382.5h1M169 382.5h1M8 383.5h1M168 383.5h1M8 384.5h1M167 384.5h1M9 385.5h1M166 385.5h1M10 386.5h1M165 386.5h1M10 387.5h1M165 387.5h1M11 388.5h4M164 388.5h1M15 389.5h6M163 389.5h1M21 390.5h2M162 390.5h1M23 391.5h2M161 391.5h1M25 392.5h2M161 392.5h1M27 393.5h2M160 393.5h1M29 394.5h1M159 394.5h1M30 395.5h2M158 395.5h1M32 396.5h1M157 396.5h1M33 397.5h1M157 397.5h1M34 398.5h2M156 398.5h1M36 399.5h4M155 399.5h1M40 400.5h5M154 400.5h1M45 401.5h1M153 401.5h1M46 402.5h1M152 402.5h1M47 403.5h1M151 403.5h1M48 404.5h1M150 404.5h1M48 405.5h1M149 405.5h1M49 406.5h1M148 406.5h1M50 407.5h1M147 407.5h1M51 408.5h1M146 408.5h1M52 409.5h1M145 409.5h1M53 410.5h1M144 410.5h1M54 411.5h1M143 411.5h1M55 412.5h1M142 412.5h1M56 413.5h1M141 413.5h1M56 414.5h1M140 414.5h1M57 415.5h1M139 415.5h1M58 416.5h1M137 416.5h2M59 417.5h1M135 417.5h2M60 418.5h1M134 418.5h1M61 419.5h1M132 419.5h2M62 420.5h1M130 420.5h2M63 421.5h1M128 421.5h2M64 422.5h1M126 422.5h2M64 423.5h1M124 423.5h2M65 424.5h1M123 424.5h1M66 425.5h1M122 425.5h1M67 426.5h1M121 426.5h1M68 427.5h2M120 427.5h1M70 428.5h2M119 428.5h1M72 429.5h3M119 429.5h1M75 430.5h2M118 430.5h1M77 431.5h1M117 431.5h1M78 432.5h2M116 432.5h1M80 433.5h1M115 433.5h1M81 434.5h1M113 434.5h2M82 435.5h2M112 435.5h1M84 436.5h5M111 436.5h1M89 437.5h5M109 437.5h2M94 438.5h2M108 438.5h1M96 439.5h2M103 439.5h5M98 440.5h5" fill="none" stroke="#ff0000" stroke-width="1"/>
<path d="M819 91.5h1M817 92.5h2M820 92.5h2M815 93.5h2M822 93.5h2M814 94.5h1M824 94.5h2M812 95.5h2M826 95.5h5M811 96.5h1M831 96.5h6M810 97.5h1M837 97.5h2M809 98.5h1M839 98.5h3M807 99.5h2M842 99.5h2M806 100.5h1M844 100.5h2M805 101.5h1M846 101.5h2M804 102.5h1M848 102.5h2M803 103.5h1M850 103.5h3M801 104.5h2M853 104.5h2M873 104.5h4M799 105.5h2M855 105.5h3M869 105.5h4M877 105.5h4M798 106.5h1M858 106.5h11M881 106.5h3M796 107.5h2M884 107.5h1M795 108.5h1M885 108.5h1M794 109.5h1M885 109.5h1M794 110.5h1M886 110.5h1M793 111.5h1M887 111.5h1M792 112.5h1M888 112.5h1M792 113.5h1M889 113.5h1M791 114.5h1M889 114.5h1M790 115.5h1M890 115.5h1M790 116.5h1M891 116.5h1M789 117.5h1M892 117.5h1M788 118.5h1M893 118.5h1M788 119.5h1M894 119.5h1M787 120.5h1M895 120.5h1M787 121.5h1M895 121.5h1M786 122.5h1M896 122.5h1M786 123.5h1M897 123.5h1M785 124.5h1M898 124.5h1M785 125.5h1M899 125.5h1M784 126.5h1M900 126.5h1M784 127.5h1M900 127.5h1M783 128.5h1M901 128.5h1M783 129.5h1M901 129.5h1M782 130.5h1M902 130.5h1M782 131.5h1M902 131.5h1M781 132.5h1M903 132.5h1M781 133.5h1M903 133.5h1M780 134.5h1M904 134.5h1M780 135.5h1M904 135.5h1M779 136.5h1M905 136.5h1M779 137.5h1M905 137.5h1M779 138.5h1M906 138.5h1M778 139.5h1M906 139.5h1M778 140.5h1M907 140.5h1M778 141.5h1M907 141.5h1M777 142.5h1M908 142.5h1M777 143.5h1M908 143.5h1M776 144.5h1M909 144.5h1M776 145.5h1M910 145.5h1M776 146.5h1M911 146.5h1M775 147.5h1M911 147.5h1M775 148.5h1M912 148.5h1M775 149.5h1M913 149.5h1M774 150.5h1M914 150.5h1M774 151.5h1M914 151.5h1M774 152.5h1M915 152.5h1M773 153.5h1M916 153.5h1M773 154.5h1M916 154.5h1M772 155.5h1M917 155.5h1M772 156.5h1M917 156.5h1M772 157.5h1M918 157.5h1M771 158.5h1M918 158.5h1M771 159.5h1M919 159.5h1M771 160.5h1M919 160.5h1M770 161.5h1M920 161.5h1M770 162.5h1M920 162.5h1M770 163.5h1M921 163.5h1M769 164.5h1M921 164.5h1M769 165.5h1M922 165.5h1M769 166.5h1M922 166.5h1M768 167.5h1M923 167.5h1M768 168.5h1M923 168.5h1M768 169.5h1M924 169.5h1M767 170.5h1M924 170.5h1M767 171.5h1M925 171.5h1M767 172.5h1M925 172.5h1M766 173.5h1M926 173.5h1M766 174.5h1M926 174.5h1M766 175.5h1M927 175.5h1M765 176.5h1M928 176.5h1M765 177.5h1M928 177.5h1M765 178.5h1M929 178.5h1M764 179.5h1M929 179.5h1M764 180.5h1M930 180.5h1M764 181.5h1M930 181.5h1M763 182.5h1M931 182.5h1M763 183.5h1M932 183.5h1M763 184.5h1M933 184.5h2M762 185.5h1M935 185.5h1M963 185.5h9M762 186.5h1M936 186.5h1M962 186.5h1M972 186.5h1M761 187.5h1M937 187.5h2M961 187.5h1M973 187.5h1M761 188.5h1M939 188.5h2M960 188.5h1M974 188.5h1M760 189.5h1M941 189.5h4M959 189.5h1M975 189.5h2M760 190.5h1M945 190.5h4M958 190.5h1M977 190.5h1M759 191.5h1M949 191.5h2M957 191.5h1M978 191.5h1M759 192.5h1M951 192.5h3M956 192.5h1M979 192.5h1M759 193.5h1M954 193.5h2M980 193.5h1M758 194.5h1M980 194.5h1M758 195.5h1M981 195.5h1M757 196.5h1M982 196.5h1M757 197.5h1M982 197.5h1M756 198.5h1M983 198.5h1M756 199.5h1M984 199.5h1M755 200.5h1M984 200.5h1M755 201.5h1M985 201.5h1M755 202.5h1M986 202.5h1M754 203.5h1M986 203.5h1M754 204.5h1M987 204.5h1M753 205.5h1M988 205.5h1M753 206.5h1M988 206.5h1M491 207.5h2M752 207.5h1M989 207.5h1M490 208.5h1M493 208.5h4M752 208.5h1M990 208.5h1M490 209.5h1M497 209.5h11M751 209.5h1M990 209.5h1M489 210.5h1M508 210.5h1M751 210.5h1M991 210.5h1M488 211.5h1M508 211.5h1M750 211.5h1M992 211.5h1M487 212.5h1M509 212.5h1M750 212.5h1M992 212.5h1M487 213.5h1M510 213.5h1M749 213.5h1M993 213.5h1M486 214.5h1M510 214.5h1M749 214.5h1M994 214.5h1M485 215.5h1M511 215.5h1M748 215.5h1M994 215.5h1M484 216.5h1M512 216.5h1M748 216.5h1M995 216.5h1M484 217.5h1M512 217.5h1M747 217.5h1M996 217.5h1M483 218.5h1M513 218.5h1M747 218.5h1M997 218.5h1M483 219.5h1M514 219.5h1M746 219.5h1M997 219.5h1M482 220.5h1M514 220.5h1M746 220.5h1M998 220.5h1M482 221.5h1M515 221.5h1M745 221.5h1M999 221.5h1M481 222.5h1M516 222.5h1M745 222.5h1M1000 222.5h1M481 223.5h1M517 223.5h1M744 223.5h1M1001 223.5h1M480 224.5h1M518 224.5h1M744 224.5h1M1001 224.5h1M480 225.5h1M519 225.5h2M743 225.5h1M1002 225.5h1M479 226.5h1M521 226.5h1M743 226.5h1M1003 226.5h2M339 227.5h2M479 227.5h1M522 227.5h1M742 227.5h1M1005 227.5h4M338 228.5h1M341 228.5h2M478 228.5h1M523 228.5h1M742 228.5h1M1009 228.5h4M337 229.5h1M343 229.5h3M478 229.5h1M524 229.5h1M741 229.5h1M1013 229.5h2M335 230.5h2M346 230.5h2M477 230.5h1M525 230.5h1M741 230.5h1M1015 230.5h3M334 231.5h1M348 231.5h1M477 231.5h1M526 231.5h1M740 231.5h1M1018 231.5h3M333 232.5h1M349 232.5h1M476 232.5h1M527 232.5h1M740 232.5h1M1021 232.5h2M332 233.5h1M350 233.5h1M476 233.5h1M527 233.5h1M739 233.5h1M1023 233.5h3M331 234.5h1M351 234.5h1M475 234.5h1M528 234.5h1M739 234.5h1M1026 234.5h3M329 235.5h2M352 235.5h1M474 235.5h1M529 235.5h1M738 235.5h1M1029 235.5h2M328 236.5h1M353 236.5h1M474 236.5h1M530 236.5h1M738 236.5h1M1031 236.5h3M327 237.5h1M354 237.5h1M473 237.5h1M531 237.5h1M737 237.5h1M1034 237.5h3M325 238.5h2M355 238.5h1M472 238.5h1M532 238.5h1M737 238.5h1M1037 238.5h2M324 239.5h1M356 239.5h1M472 239.5h1M532 239.5h1M736 239.5h1M1039 239.5h3M322 240.5h2M356 240.5h1M471 240.5h1M533 240.5h1M736 240.5h1M1042 240.5h2M320 241.5h2M357 241.5h1M470 241.5h1M533 241.5h1M735 241.5h1M1044 241.5h1M318 242.5h2M358 242.5h1M470 242.5h1M534 242.5h1M735 242.5h1M1044 242.5h1M316 243.5h2M359 243.5h1M469 243.5h1M534 243.5h1M734 243.5h1M1045 243.5h1M314 244.5h2M359 244.5h1M468 244.5h1M535 244.5h1M734 244.5h1M1045 244.5h1M311 245.5h3M360 245.5h1M468 245.5h1M535 245.5h1M733 245.5h1M1046 245.5h1M309 246.5h2M361 246.5h1M467 246.5h1M536 246.5h1M733 246.5h1M1047 246.5h1M307 247.5h2M362 247.5h1M466 247.5h1M536 247.5h1M732 247.5h1M1047 247.5h1M306 248.5h1M362 248.5h1M466 248.5h1M537 248.5h1M732 248.5h1M1048 248.5h1M306 249.5h1M363 249.5h1M465 249.5h1M537 249.5h1M731 249.5h1M1049 249.5h1M305 250.5h1M364 250.5h1M465 250.5h1M538 250.5h1M730 250.5h1M1049 250.5h1M305 251.5h1M365 251.5h1M464 251.5h1M538 251.5h1M730 251.5h1M1050 251.5h1M304 252.5h1M366 252.5h1M464 252.5h1M539 252.5h1M729 252.5h1M1050 252.5h1M303 253.5h1M367 253.5h2M463 253.5h1M539 253.5h1M728 253.5h1M1051 253.5h1M303 254.5h1M369 254.5h1M462 254.5h1M539 254.5h1M728 254.5h1M1052 254.5h1M302 255.5h1M370 255.5h1M462 255.5h1M540 255.5h1M727 255.5h1M1052 255.5h1M301 256.5h1M371 256.5h1M461 256.5h1M540 256.5h1M726 256.5h1M1053 256.5h1M301 257.5h1M372 257.5h1M461 257.5h1M540 257.5h1M726 257.5h1M1053 257.5h1M300 258.5h1M373 258.5h1M460 258.5h1M541 258.5h1M725 258.5h1M1054 258.5h1M300 259.5h1M374 259.5h1M460 259.5h1M541 259.5h1M724 259.5h1M1054 259.5h1M299 260.5h1M375 260.5h2M459 260.5h1M541 260.5h1M724 260.5h1M1055 260.5h1M298 261.5h1M377 261.5h1M458 261.5h1M542 261.5h1M723 261.5h1M1055 261.5h1M298 262.5h1M378 262.5h1M458 262.5h1M542 262.5h1M721 262.5h2M1056 262.5h1M297 263.5h1M379 263.5h1M457 263.5h1M542 263.5h1M719 263.5h2M1056 263.5h1M296 264.5h1M380 264.5h1M457 264.5h1M543 264.5h1M718 264.5h1M1057 264.5h1M295 265.5h1M381 265.5h2M456 265.5h1M543 265.5h1M716 265.5h2M1057 265.5h1M295 266.5h1M383 266.5h1M456 266.5h1M544 266.5h1M714 266.5h2M1058 266.5h1M294 267.5h1M384 267.5h1M455 267.5h1M544 267.5h1M712 267.5h2M1058 267.5h1M293 268.5h1M385 268.5h2M454 268.5h1M544 268.5h1M710 268.5h2M1059 268.5h1M292 269.5h1M387 269.5h1M454 269.5h1M545 269.5h1M708 269.5h2M1059 269.5h1M292 270.5h1M388 270.5h1M453 270.5h1M545 270.5h1M706 270.5h2M1059 270.5h1M291 271.5h1M389 271.5h2M453 271.5h1M545 271.5h1M704 271.5h2M1060 271.5h1M290 272.5h1M391 272.5h1M452 272.5h1M546 272.5h1M702 272.5h2M1060 272.5h1M290 273.5h1M392 273.5h1M452 273.5h1M546 273.5h1M700 273.5h2M1061 273.5h1M289 274.5h1M393 274.5h2M451 274.5h1M546 274.5h1M699 274.5h1M1061 274.5h1M288 275.5h1M395 275.5h2M449 275.5h2M547 275.5h1M698 275.5h1M1062 275.5h1M288 276.5h1M397 276.5h4M448 276.5h1M547 276.5h1M697 276.5h1M1062 276.5h1M287 277.5h1M401 277.5h3M447 277.5h1M548 277.5h1M695 277.5h2M1063 277.5h1M286 278.5h1M404 278.5h2M445 278.5h2M548 278.5h1M694 278.5h1M1063 278.5h1M286 279.5h1M406 279.5h2M444 279.5h1M549 279.5h1M693 279.5h1M1064 279.5h1M285 280.5h1M408 280.5h2M443 280.5h1M549 280.5h1M692 280.5h1M1064 280.5h1M284 281.5h1M410 281.5h3M441 281.5h2M550 281.5h1M691 281.5h1M1065 281.5h1M284 282.5h1M413 282.5h4M440 282.5h1M550 282.5h1M689 282.5h2M1065 282.5h1M283 283.5h1M417 283.5h4M439 283.5h1M551 283.5h1M688 283.5h1M1066 283.5h1M281 284.5h2M421 284.5h4M437 284.5h2M551 284.5h1M687 284.5h1M1066 284.5h1M280 285.5h1M425 285.5h6M436 285.5h1M552 285.5h1M685 285.5h2M1067 285.5h1M279 286.5h1M431 286.5h5M552 286.5h1M684 286.5h1M1067 286.5h1M277 287.5h2M553 287.5h1M675 287.5h9M1067 287.5h1M276 288.5h1M553 288.5h1M673 288.5h2M1068 288.5h1M275 289.5h1M554 289.5h1M672 289.5h1M1068 289.5h1M274 290.5h1M554 290.5h1M671 290.5h1M1068 290.5h1M273 291.5h1M555 291.5h1M669 291.5h2M1069 291.5h1M272 292.5h1M556 292.5h1M668 292.5h1M1069 292.5h1M271 293.5h1M556 293.5h1M667 293.5h1M1069 293.5h1M270 294.5h1M557 294.5h1M665 294.5h2M1070 294.5h1M269 295.5h1M557 295.5h1M663 295.5h2M1070 295.5h1M268 296.5h1M558 296.5h1M662 296.5h1M1070 296.5h1M267 297.5h1M559 297.5h1M660 297.5h2M1071 297.5h1M266 298.5h1M559 298.5h1M659 298.5h1M1071 298.5h1M266 299.5h1M560 299.5h1M658 299.5h1M1071 299.5h1M265 300.5h1M561 300.5h1M657 300.5h1M1072 300.5h1M264 301.5h1M561 301.5h1M655 301.5h2M1072 301.5h1M264 302.5h1M562 302.5h1M654 302.5h1M1072 302.5h1M263 303.5h1M562 303.5h1M653 303.5h1M1073 303.5h1M262 304.5h1M563 304.5h1M652 304.5h1M1073 304.5h1M262 305.5h1M564 305.5h1M651 305.5h1M1073 305.5h1M261 306.5h1M564 306.5h1M650 306.5h1M1074 306.5h1M260 307.5h1M565 307.5h1M649 307.5h1M1074 307.5h1M260 308.5h1M566 308.5h1M647 308.5h2M1074 308.5h1M259 309.5h1M567 309.5h1M646 309.5h1M1075 309.5h1M258 310.5h1M567 310.5h1M645 310.5h1M1075 310.5h1M257 311.5h1M568 311.5h1M644 311.5h1M1075 311.5h1M257 312.5h1M569 312.5h1M643 312.5h1M1076 312.5h1M256 313.5h1M570 313.5h1M641 313.5h2M1076 313.5h1M255 314.5h1M570 314.5h1M639 314.5h2M1076 314.5h1M254 315.5h1M571 315.5h1M638 315.5h1M1076 315.5h1M253 316.5h1M572 316.5h1M636 316.5h2M1077 316.5h1M253 317.5h1M572 317.5h1M635 317.5h1M1077 317.5h1M252 318.5h1M573 318.5h1M634 318.5h1M1077 318.5h1M251 319.5h1M573 319.5h1M633 319.5h1M1078 319.5h1M250 320.5h1M574 320.5h1M632 320.5h1M1078 320.5h1M171 321.5h2M250 321.5h1M574 321.5h1M631 321.5h1M1078 321.5h1M170 322.5h1M173 322.5h4M249 322.5h1M575 322.5h1M630 322.5h1M1079 322.5h1M169 323.5h1M177 323.5h4M248 323.5h1M576 323.5h1M629 323.5h1M1079 323.5h1M167 324.5h2M181 324.5h2M247 324.5h1M576 324.5h1M628 324.5h1M1079 324.5h1M166 325.5h1M183 325.5h3M247 325.5h1M577 325.5h1M627 325.5h1M1079 325.5h1M165 326.5h1M186 326.5h2M246 326.5h1M577 326.5h1M626 326.5h1M1080 326.5h1M164 327.5h1M188 327.5h1M245 327.5h1M578 327.5h1M625 327.5h1M1080 327.5h1M163 328.5h1M189 328.5h2M244 328.5h1M578 328.5h1M623 328.5h2M1080 328.5h1M162 329.5h1M191 329.5h1M244 329.5h1M579 329.5h1M622 329.5h1M1081 329.5h1M161 330.5h1M192 330.5h1M243 330.5h1M580 330.5h1M621 330.5h1M1081 330.5h1M161 331.5h1M193 331.5h2M242 331.5h1M581 331.5h1M620 331.5h1M1081 331.5h1M160 332.5h1M195 332.5h2M241 332.5h1M581 332.5h1M615 332.5h5M1082 332.5h1M159 333.5h1M197 333.5h2M239 333.5h2M582 333.5h1M611 333.5h4M1082 333.5h1M158 334.5h1M199 334.5h3M238 334.5h1M583 334.5h1M609 334.5h2M1082 334.5h1M157 335.5h1M202 335.5h2M237 335.5h1M584 335.5h1M608 335.5h1M1082 335.5h1M157 336.5h1M204 336.5h2M236 336.5h1M585 336.5h1M607 336.5h1M1083 336.5h1M156 337.5h1M206 337.5h1M234 337.5h2M585 337.5h1M605 337.5h2M1083 337.5h1M155 338.5h1M207 338.5h2M232 338.5h2M586 338.5h1M604 338.5h1M1084 338.5h1M155 339.5h1M209 339.5h2M230 339.5h2M587 339.5h1M603 339.5h1M1084 339.5h1M154 340.5h1M211 340.5h4M228 340.5h2M588 340.5h2M601 340.5h2M1085 340.5h1M154 341.5h1M215 341.5h13M590 341.5h1M599 341.5h2M1085 341.5h1M154 342.5h1M591 342.5h2M598 342.5h1M1086 342.5h1M153 343.5h1M593 343.5h2M596 343.5h2M1086 343.5h1M153 344.5h1M595 344.5h1M1087 344.5h1M152 345.5h1M1087 345.5h1M152 346.5h1M1088 346.5h1M152 347.5h1M1088 347.5h1M151 348.5h1M1089 348.5h1M151 349.5h1M1089 349.5h1M151 350.5h1M1090 350.5h1M150 351.5h1M1090 351.5h1M150 352.5h1M1091 352.5h1M150 353.5h1M1092 353.5h1M149 354.5h1M1092 354.5h1M149 355.5h1M1093 355.5h1M148 356.5h1M1093 356.5h1M148 357.5h1M1094 357.5h1M148 358.5h1M1094 358.5h1M147 359.5h1M1095 359.5h1M147 360.5h1M1096 360.5h1M147 361.5h1M1096 361.5h1M146 362.5h1M1097 362.5h1M146 363.5h1M1097 363.5h1M145 364.5h1M1098 364.5h1M145 365.5h1M1098 365.5h1M144 366.5h1M1099 366.5h17M144 367.5h1M144 368.5h1M143 369.5h1M143 370.5h1M142 371.5h1M142 372.5h1M142 373.5h1M141 374.5h1M141 375.5h1M140 376.5h1M140 377.5h1M139 378.5h1M139 379.5h1M138 380.5h1M138 381.5h1M137 382.5h1M137 383.5h1M136 384.5h1M136 385.5h1M135 386.5h1M135 387.5h1M134 388.5h1M134 389.5h1M133 390.5h1M133 391.5h1M132 392.5h1M132 393.5h1M131 394.5h1M130 395.5h1M130 396.5h1M129 397.5h1M129 398.5h1M128 399.5h1M128 400.5h1M127 401.5h1M127 402.5h1M126 403.5h1M126 404.5h1M125 405.5h1M125 406.5h1M124 407.5h1M124 408.5h1M123 409.5h1M3 410.5h1M123 410.5h1M4 411.5h2M18 411.5h2M122 411.5h1M6 412.5h2M15 412.5h3M20 412.5h1M122 412.5h1M8 413.5h2M13 413.5h2M21 413.5h1M122 413.5h1M10 414.5h3M22 414.5h1M122 414.5h1M23 415.5h1M121 415.5h1M24 416.5h1M121 416.5h1M25 417.5h1M121 417.5h1M26 418.5h1M120 418.5h1M27 419.5h1M120 419.5h1M28 420.5h2M120 420.5h1M30 421.5h4M120 421.5h1M34 422.5h6M119 422.5h1M40 423.5h5M119 423.5h1M45 424.5h2M119 424.5h1M47 425.5h1M118 425.5h1M48 426.5h1M118 426.5h1M49 427.5h2M118 427.5h1M51 428.5h4M118 428.5h1M55 429.5h5M117 429.5h1M60 430.5h1M117 430.5h1M60 431.5h1M117 431.5h1M61 432.5h1M116 432.5h1M62 433.5h1M116 433.5h1M63 434.5h1M116 434.5h1M63 435.5h1M116 435.5h1M64 436.5h1M115 436.5h1M65 437.5h1M115 437.5h1M66 438.5h1M114 438.5h1M66 439.5h1M114 439.5h1M67 440.5h1M113 440.5h1M68 441.5h1M113 441.5h1M69 442.5h1M112 442.5h1M70 443.5h1M111 443.5h1M71 444.5h1M111 444.5h1M72 445.5h1M110 445.5h1M73 446.5h1M109 446.5h1M74 447.5h1M109 447.5h1M75 448.5h2M108 448.5h1M77 449.5h2M108 449.5h1M79 450.5h3M107 450.5h1M82 451.5h2M106 451.5h1M84 452.5h2M106 452.5h1M86 453.5h2M105 453.5h1M88 454.5h2M104 454.5h1M90 455.5h2M103 455.5h1M92 456.5h1M103 456.5h1M93 457.5h2M102 457.5h1M95 458.5h1M101 458.5h1M96 459.5h1M100 459.5h1M97 460.5h2M100 460.5h1M99 461.5h1" fill="none" stroke="#0000cd" stroke-width="1"/>
</g>
<rect x="997" y="265" width="184" height="5" fill="#ff3333"/>
<rect x="998" y="322" width="185" height="5" fill="#99cc00"/>
<polygon points="1128.5,26 1138.5,26 1133.5,31.5" fill="#c0c0c0"/>
<rect x="3" y="618" width="1" height="25" fill="#c0c0c0"/>
<rect x="11" y="618" width="1" height="27" fill="#c0c0c0"/>
<rect x="19" y="618" width="1" height="24" fill="#c0c0c0"/>
<rect x="27" y="618" width="1" height="22" fill="#c0c0c0"/>
<rect x="35" y="618" width="1" height="21" fill="#c0c0c0"/>
<rect x="43" y="618" width="1" height="20" fill="#c0c0c0"/>
<rect x="51" y="618" width="1" height="23" fill="#c0c0c0"/>
<rect x="59" y="618" width="1" height="25" fill="#c0c0c0"/>
<rect x="67" y="618" width="1" height="31" fill="#c0c0c0"/>
<rect x="75" y="618" width="1" height="28" fill="#c0c0c0"/>
<rect x="83" y="618" width="1" height="25" fill="#c0c0c0"/>
<rect x="91" y="618" width="1" height="22" fill="#c0c0c0"/>
<rect x="99" y="618" width="1" height="22" fill="#c0c0c0"/>
<rect x="107" y="618" width="1" height="19" fill="#c0c0c0"/>
<rect x="115" y="618" width="1" height="13" fill="#c0c0c0"/>
<rect x="123" y="618" width="1" height="6" fill="#c0c0c0"/>
<rect x="139" y="614" width="1" height="5" fill="#c0c0c0"/>
<rect x="147" y="608" width="1" height="11" fill="#c0c0c0"/>
<rect x="155" y="604" width="1" height="15" fill="#c0c0c0"/>
<rect x="163" y="603" width="1" height="16" fill="#c0c0c0"/>
<rect x="171" y="602" width="1" height="17" fill="#c0c0c0"/>
<rect x="179" y="603" width="1" height="16" fill="#c0c0c0"/>
<rect x="187" y="604" width="1" height="15" fill="#c0c0c0"/>
<rect x="195" y="606" width="1" height="13" fill="#c0c0c0"/>
<rect x="203" y="604" width="1" height="15" fill="#c0c0c0"/>
<rect x="211" y="605" width="1" height="14" fill="#c0c0c0"/>
<rect x="219" y="605" width="1" height="14" fill="#c0c0c0"/>
<rect x="227" y="605" width="1" height="14" fill="#c0c0c0"/>
<rect x="235" y="605" width="1" height="14" fill="#c0c0c0"/>
<rect x="243" y="604" width="1" height="15" fill="#c0c0c0"/>
<rect x="251" y="600" width="1" height="19" fill="#c0c0c0"/>
<rect x="259" y="597" width="1" height="22" fill="#c0c0c0"/>
<rect x="267" y="595" width="1" height="24" fill="#c0c0c0"/>
<rect x="275" y="595" width="1" height="24" fill="#c0c0c0"/>
<rect x="283" y="595" width="1" height="24" fill="#c0c0c0"/>
<rect x="291" y="593" width="1" height="26" fill="#c0c0c0"/>
<rect x="299" y="590" width="1" height="29" fill="#c0c0c0"/>
<rect x="307" y="586" width="1" height="33" fill="#c0c0c0"/>
<rect x="315" y="586" width="1" height="33" fill="#c0c0c0"/>
<rect x="323" y="587" width="1" height="32" fill="#c0c0c0"/>
<rect x="331" y="588" width="1" height="31" fill="#c0c0c0"/>
<rect x="339" y="590" width="1" height="29" fill="#c0c0c0"/>
<rect x="347" y="592" width="1" height="27" fill="#c0c0c0"/>
<rect x="355" y="596" width="1" height="23" fill="#c0c0c0"/>
<rect x="363" y="598" width="1" height="21" fill="#c0c0c0"/>
<rect x="371" y="601" width="1" height="18" fill="#c0c0c0"/>
<rect x="379" y="604" width="1" height="15" fill="#c0c0c0"/>
<rect x="387" y="606" width="1" height="13" fill="#c0c0c0"/>
<rect x="395" y="608" width="1" height="11" fill="#c0c0c0"/>
<rect x="403" y="609" width="1" height="10" fill="#c0c0c0"/>
<rect x="411" y="612" width="1" height="7" fill="#c0c0c0"/>
<rect x="419" y="613" width="1" height="6" fill="#c0c0c0"/>
<rect x="427" y="615" width="1" height="4" fill="#c0c0c0"/>
<rect x="435" y="616" width="1" height="3" fill="#c0c0c0"/>
<rect x="443" y="613" width="1" height="6" fill="#c0c0c0"/>
<rect x="451" y="611" width="1" height="8" fill="#c0c0c0"/>
<rect x="459" y="605" width="1" height="14" fill="#c0c0c0"/>
<rect x="467" y="603" width="1" height="16" fill="#c0c0c0"/>
<rect x="475" y="601" width="1" height="18" fill="#c0c0c0"/>
<rect x="483" y="598" width="1" height="21" fill="#c0c0c0"/>
<rect x="491" y="598" width="1" height="21" fill="#c0c0c0"/>
<rect x="499" y="601" width="1" height="18" fill="#c0c0c0"/>
<rect x="507" y="603" width="1" height="16" fill="#c0c0c0"/>
<rect x="515" y="606" width="1" height="13" fill="#c0c0c0"/>
<rect x="523" y="608" width="1" height="11" fill="#c0c0c0"/>
<rect x="531" y="611" width="1" height="8" fill="#c0c0c0"/>
<rect x="539" y="615" width="1" height="4" fill="#c0c0c0"/>
<rect x="547" y="618" width="1" height="4" fill="#c0c0c0"/>
<rect x="555" y="618" width="1" height="10" fill="#c0c0c0"/>
<rect x="563" y="618" width="1" height="13" fill="#c0c0c0"/>
<rect x="571" y="618" width="1" height="15" fill="#c0c0c0"/>
<rect x="579" y="618" width="1" height="18" fill="#c0c0c0"/>
<rect x="587" y="618" width="1" height="19" fill="#c0c0c0"/>
<rect x="595" y="618" width="1" height="19" fill="#c0c0c0"/>
<rect x="603" y="618" width="1" height="18" fill="#c0c0c0"/>
<rect x="611" y="618" width="1" height="16" fill="#c0c0c0"/>
<rect x="619" y="618" width="1" height="16" fill="#c0c0c0"/>
<rect x="627" y="618" width="1" height="13" fill="#c0c0c0"/>
<rect x="635" y="618" width="1" height="11" fill="#c0c0c0"/>
<rect x="643" y="618" width="1" height="10" fill="#c0c0c0"/>
<rect x="651" y="618" width="1" height="7" fill="#c0c0c0"/>
<rect x="659" y="618" width="1" height="5" fill="#c0c0c0"/>
<rect x="667" y="618" width="1" height="3" fill="#c0c0c0"/>
<rect x="675" y="618" width="1" height="2" fill="#c0c0c0"/>
<rect x="683" y="618" width="1" height="1" fill="#c0c0c0"/>
<rect x="691" y="617" width="1" height="2" fill="#c0c0c0"/>
<rect x="699" y="615" width="1" height="4" fill="#c0c0c0"/>
<rect x="707" y="613" width="1" height="6" fill="#c0c0c0"/>
<rect x="715" y="612" width="1" height="7" fill="#c0c0c0"/>
<rect x="723" y="610" width="1" height="9" fill="#c0c0c0"/>
<rect x="731" y="606" width="1" height="13" fill="#c0c0c0"/>
<rect x="739" y="602" width="1" height="17" fill="#c0c0c0"/>
<rect x="747" y="595" width="1" height="24" fill="#c0c0c0"/>
<rect x="755" y="591" width="1" height="28" fill="#c0c0c0"/>
<rect x="763" y="587" width="1" height="32" fill="#c0c0c0"/>
<rect x="771" y="581" width="1" height="38" fill="#c0c0c0"/>
<rect x="779" y="577" width="1" height="42" fill="#c0c0c0"/>
<rect x="787" y="574" width="1" height="45" fill="#c0c0c0"/>
<rect x="795" y="573" width="1" height="46" fill="#c0c0c0"/>
<rect x="803" y="573" width="1" height="46" fill="#c0c0c0"/>
<rect x="811" y="573" width="1" height="46" fill="#c0c0c0"/>
<rect x="819" y="574" width="1" height="45" fill="#c0c0c0"/>
<rect x="827" y="576" width="1" height="43" fill="#c0c0c0"/>
<rect x="835" y="577" width="1" height="42" fill="#c0c0c0"/>
<rect x="843" y="580" width="1" height="39" fill="#c0c0c0"/>
<rect x="851" y="583" width="1" height="36" fill="#c0c0c0"/>
<rect x="859" y="585" width="1" height="34" fill="#c0c0c0"/>
<rect x="867" y="586" width="1" height="33" fill="#c0c0c0"/>
<rect x="875" y="586" width="1" height="33" fill="#c0c0c0"/>
<rect x="883" y="590" width="1" height="29" fill="#c0c0c0"/>
<rect x="891" y="596" width="1" height="23" fill="#c0c0c0"/>
<rect x="899" y="601" width="1" height="18" fill="#c0c0c0"/>
<rect x="907" y="609" width="1" height="10" fill="#c0c0c0"/>
<rect x="915" y="614" width="1" height="5" fill="#c0c0c0"/>
<rect x="923" y="617" width="1" height="2" fill="#c0c0c0"/>
<rect x="947" y="618" width="1" height="2" fill="#c0c0c0"/>
<rect x="955" y="618" width="1" height="4" fill="#c0c0c0"/>
<rect x="963" y="618" width="1" height="4" fill="#c0c0c0"/>
<rect x="971" y="618" width="1" height="5" fill="#c0c0c0"/>
<rect x="979" y="618" width="1" height="10" fill="#c0c0c0"/>
<rect x="987" y="618" width="1" height="14" fill="#c0c0c0"/>
<rect x="995" y="618" width="1" height="18" fill="#c0c0c0"/>
<rect x="1003" y="618" width="1" height="19" fill="#c0c0c0"/>
<rect x="1011" y="618" width="1" height="17" fill="#c0c0c0"/>
<rect x="1019" y="618" width="1" height="15" fill="#c0c0c0"/>
<rect x="1027" y="618" width="1" height="13" fill="#c0c0c0"/>
<rect x="1035" y="618" width="1" height="17" fill="#c0c0c0"/>
<rect x="1043" y="618" width="1" height="20" fill="#c0c0c0"/>
<rect x="1051" y="618" width="1" height="27" fill="#c0c0c0"/>
<rect x="1059" y="618" width="1" height="32" fill="#c0c0c0"/>
<rect x="1067" y="618" width="1" height="35" fill="#c0c0c0"/>
<rect x="1075" y="618" width="1" height="38" fill="#c0c0c0"/>
<rect x="1083" y="618" width="1" height="43" fill="#c0c0c0"/>
<rect x="1091" y="618" width="1" height="44" fill="#c0c0c0"/>
<rect x="1099" y="618" width="1" height="46" fill="#c0c0c0"/>
<rect x="1107" y="618" width="1" height="44" fill="#c0c0c0"/>
<rect x="1115" y="618" width="1" height="42" fill="#c0c0c0"/>
<path d="M842 574.5h3M831 575.5h2M836 575.5h3M848 575.5h3M854 575.5h1M825 576.5h2M830 576.5h1M855 576.5h2M860 576.5h1M824 577.5h1M861 577.5h2M818 578.5h3M866 578.5h3M813 579.5h2M872 579.5h3M812 580.5h1M878 580.5h3M807 581.5h2M884 581.5h1M806 582.5h1M885 582.5h2M802 583.5h1M890 583.5h3M800 584.5h2M896 585.5h2M796 586.5h1M898 586.5h1M794 587.5h2M902 588.5h2M332 589.5h3M338 589.5h3M344 589.5h3M350 589.5h3M356 589.5h3M362 589.5h3M789 589.5h2M904 589.5h1M326 590.5h3M368 590.5h3M788 590.5h1M320 591.5h3M374 591.5h3M908 591.5h2M314 592.5h3M380 592.5h1M783 592.5h2M910 592.5h1M309 593.5h2M381 593.5h2M782 593.5h1M308 594.5h1M914 594.5h2M302 595.5h3M386 595.5h3M778 595.5h1M916 595.5h1M297 596.5h2M392 596.5h1M776 596.5h2M296 597.5h1M393 597.5h2M920 597.5h2M290 598.5h3M398 598.5h1M772 598.5h1M922 598.5h1M285 599.5h2M399 599.5h2M770 599.5h2M926 599.5h1M279 600.5h2M284 600.5h1M404 600.5h1M927 600.5h2M266 601.5h3M272 601.5h3M278 601.5h1M405 601.5h2M765 601.5h2M255 602.5h2M260 602.5h3M410 602.5h3M512 602.5h3M518 602.5h3M524 602.5h3M530 602.5h3M764 602.5h1M932 602.5h2M218 603.5h3M224 603.5h3M230 603.5h3M236 603.5h3M242 603.5h3M248 603.5h3M254 603.5h1M416 603.5h1M506 603.5h3M536 603.5h1M760 603.5h1M934 603.5h1M201 604.5h2M206 604.5h3M212 604.5h3M417 604.5h2M501 604.5h2M537 604.5h2M758 604.5h2M200 605.5h1M422 605.5h1M495 605.5h2M500 605.5h1M542 605.5h3M938 605.5h2M194 606.5h3M423 606.5h2M488 606.5h3M494 606.5h1M548 606.5h1M754 606.5h1M940 606.5h1M189 607.5h2M428 607.5h1M482 607.5h3M549 607.5h2M752 607.5h2M188 608.5h1M429 608.5h2M477 608.5h2M944 608.5h2M183 609.5h2M434 609.5h3M471 609.5h2M476 609.5h1M554 609.5h2M746 609.5h3M946 609.5h1M182 610.5h1M440 610.5h3M446 610.5h3M452 610.5h3M458 610.5h3M464 610.5h3M470 610.5h1M556 610.5h1M950 610.5h1M178 611.5h1M741 611.5h2M951 611.5h2M176 612.5h2M560 612.5h2M740 612.5h1M956 612.5h1M562 613.5h1M734 613.5h3M957 613.5h2M172 614.5h1M566 614.5h1M729 614.5h2M171 615.5h1M567 615.5h2M728 615.5h1M962 615.5h3M170 616.5h1M722 616.5h3M968 616.5h1M572 617.5h2M716 617.5h3M969 617.5h2M166 618.5h1M574 618.5h1M710 618.5h3M974 618.5h3M164 619.5h2M705 619.5h2M980 619.5h1M578 620.5h2M704 620.5h1M981 620.5h2M160 621.5h1M580 621.5h1M698 621.5h3M986 621.5h3M158 622.5h2M692 622.5h3M992 622.5h1M584 623.5h2M686 623.5h3M993 623.5h2M154 624.5h1M586 624.5h1M681 624.5h2M998 624.5h3M152 625.5h2M590 625.5h1M680 625.5h1M1004 625.5h1M591 626.5h2M674 626.5h3M1005 626.5h2M148 627.5h1M596 627.5h1M669 627.5h2M1010 627.5h3M146 628.5h2M597 628.5h2M668 628.5h1M1016 628.5h1M602 629.5h3M662 629.5h3M1017 629.5h2M1022 629.5h1M142 630.5h1M657 630.5h2M1023 630.5h2M1028 630.5h3M140 631.5h2M608 631.5h2M656 631.5h1M1034 631.5h3M610 632.5h1M614 632.5h1M650 632.5h3M1040 632.5h1M136 633.5h1M615 633.5h2M620 633.5h3M626 633.5h3M632 633.5h3M638 633.5h3M644 633.5h3M1041 633.5h2M3 634.5h3M134 634.5h2M1046 634.5h3M9 635.5h1M1052 635.5h1M10 636.5h2M130 636.5h1M1053 636.5h2M15 637.5h3M128 637.5h2M1058 637.5h3M21 638.5h3M27 638.5h2M1064 638.5h1M29 639.5h1M33 639.5h3M39 639.5h3M122 639.5h3M1065 639.5h2M45 640.5h3M51 640.5h3M117 640.5h2M1070 640.5h3M57 641.5h3M68 641.5h3M104 641.5h3M110 641.5h3M116 641.5h1M1076 641.5h1M63 642.5h3M74 642.5h3M80 642.5h3M86 642.5h3M92 642.5h3M98 642.5h3M1077 642.5h2M1082 644.5h3M1088 646.5h2M1090 647.5h1M1094 649.5h2M1096 650.5h1M1100 651.5h1M1101 652.5h2M1106 654.5h3M1112 655.5h1M1113 656.5h2" fill="none" stroke="#ff0000" stroke-width="1"/>
<rect x="3" y="711" width="1415" height="1" fill="none"/>
<line x1="4" y1="711.5" x2="1418" y2="711.5" stroke="#c0c0c0" stroke-dasharray="3,3"/>
<line x1="4" y1="762.5" x2="1418" y2="762.5" stroke="#c0c0c0" stroke-dasharray="3,3"/>
<path d="M771 697.5h10M769 698.5h2M781 698.5h4M768 699.5h1M785 699.5h3M767 700.5h1M788 700.5h2M747 701.5h2M765 701.5h2M790 701.5h2M745 702.5h2M749 702.5h2M764 702.5h1M792 702.5h2M807 702.5h6M744 703.5h1M751 703.5h3M759 703.5h5M794 703.5h13M813 703.5h4M743 704.5h1M754 704.5h5M817 704.5h3M741 705.5h2M820 705.5h1M740 706.5h1M821 706.5h1M739 707.5h1M822 707.5h1M737 708.5h2M823 708.5h1M306 709.5h2M735 709.5h2M824 709.5h1M834 709.5h2M304 710.5h2M308 710.5h1M734 710.5h1M825 710.5h1M831 710.5h3M836 710.5h1M302 711.5h2M308 711.5h1M459 711.5h1M732 711.5h2M826 711.5h1M829 711.5h2M837 711.5h1M300 712.5h2M309 712.5h1M458 712.5h1M460 712.5h1M731 712.5h1M827 712.5h2M838 712.5h1M298 713.5h2M310 713.5h1M458 713.5h1M460 713.5h1M730 713.5h1M839 713.5h1M873 713.5h3M295 714.5h3M310 714.5h1M457 714.5h1M461 714.5h1M729 714.5h1M840 714.5h1M869 714.5h4M875 714.5h1M259 715.5h9M293 715.5h2M311 715.5h1M457 715.5h1M462 715.5h1M729 715.5h1M841 715.5h1M866 715.5h3M876 715.5h1M257 716.5h2M268 716.5h1M291 716.5h2M312 716.5h1M456 716.5h1M463 716.5h1M728 716.5h1M842 716.5h1M864 716.5h2M876 716.5h1M255 717.5h2M269 717.5h1M290 717.5h1M312 717.5h1M455 717.5h1M463 717.5h1M482 717.5h2M727 717.5h1M843 717.5h1M862 717.5h2M877 717.5h1M254 718.5h1M270 718.5h1M289 718.5h1M313 718.5h1M455 718.5h1M464 718.5h1M480 718.5h2M484 718.5h1M726 718.5h1M844 718.5h2M860 718.5h2M877 718.5h1M252 719.5h2M271 719.5h1M288 719.5h1M314 719.5h1M454 719.5h1M465 719.5h1M478 719.5h2M485 719.5h1M725 719.5h1M846 719.5h1M858 719.5h2M878 719.5h1M250 720.5h2M272 720.5h1M287 720.5h1M314 720.5h1M453 720.5h1M466 720.5h1M476 720.5h2M486 720.5h1M725 720.5h1M847 720.5h2M855 720.5h3M878 720.5h1M248 721.5h2M273 721.5h1M287 721.5h1M315 721.5h12M453 721.5h1M466 721.5h1M471 721.5h5M487 721.5h2M724 721.5h1M849 721.5h2M853 721.5h2M879 721.5h1M246 722.5h2M274 722.5h1M286 722.5h1M327 722.5h13M452 722.5h1M467 722.5h4M489 722.5h1M722 722.5h2M851 722.5h2M879 722.5h1M145 723.5h11M244 723.5h2M275 723.5h2M285 723.5h1M340 723.5h1M443 723.5h4M452 723.5h1M490 723.5h1M720 723.5h2M880 723.5h1M141 724.5h4M156 724.5h2M242 724.5h2M277 724.5h4M284 724.5h1M341 724.5h1M442 724.5h1M447 724.5h5M491 724.5h1M695 724.5h14M718 724.5h2M880 724.5h1M129 725.5h12M158 725.5h1M240 725.5h2M281 725.5h3M342 725.5h1M442 725.5h1M492 725.5h1M691 725.5h4M709 725.5h4M716 725.5h2M881 725.5h1M125 726.5h4M159 726.5h2M238 726.5h2M343 726.5h1M441 726.5h1M492 726.5h1M690 726.5h1M713 726.5h3M881 726.5h1M122 727.5h3M161 727.5h2M167 727.5h5M236 727.5h2M343 727.5h1M441 727.5h1M493 727.5h1M689 727.5h1M882 727.5h1M120 728.5h2M163 728.5h4M172 728.5h2M226 728.5h10M344 728.5h1M440 728.5h1M494 728.5h1M688 728.5h1M882 728.5h1M118 729.5h2M174 729.5h1M203 729.5h2M223 729.5h3M345 729.5h1M440 729.5h1M495 729.5h1M687 729.5h1M883 729.5h1M116 730.5h2M175 730.5h2M201 730.5h2M205 730.5h4M221 730.5h2M346 730.5h1M439 730.5h1M495 730.5h1M686 730.5h1M883 730.5h1M114 731.5h2M177 731.5h2M199 731.5h2M209 731.5h12M347 731.5h2M438 731.5h1M496 731.5h1M663 731.5h6M685 731.5h1M884 731.5h1M112 732.5h2M179 732.5h4M198 732.5h1M349 732.5h2M438 732.5h1M497 732.5h1M651 732.5h12M669 732.5h2M684 732.5h1M885 732.5h1M110 733.5h2M183 733.5h8M196 733.5h2M351 733.5h3M359 733.5h6M402 733.5h2M437 733.5h1M498 733.5h1M627 733.5h1M650 733.5h1M671 733.5h3M679 733.5h5M885 733.5h1M108 734.5h2M191 734.5h5M354 734.5h5M365 734.5h4M399 734.5h3M404 734.5h1M437 734.5h1M498 734.5h1M626 734.5h1M628 734.5h2M649 734.5h1M674 734.5h5M886 734.5h1M107 735.5h1M369 735.5h22M397 735.5h2M404 735.5h1M436 735.5h1M499 735.5h10M626 735.5h1M630 735.5h2M647 735.5h2M887 735.5h1M106 736.5h1M391 736.5h6M405 736.5h1M436 736.5h1M509 736.5h2M625 736.5h1M632 736.5h2M646 736.5h1M888 736.5h1M105 737.5h1M406 737.5h1M419 737.5h2M433 737.5h3M511 737.5h3M624 737.5h1M634 737.5h3M645 737.5h1M889 737.5h1M19 738.5h2M104 738.5h1M407 738.5h1M418 738.5h1M421 738.5h4M429 738.5h4M514 738.5h11M624 738.5h1M637 738.5h4M644 738.5h1M889 738.5h1M963 738.5h1M1018 738.5h3M18 739.5h1M21 739.5h2M103 739.5h1M407 739.5h1M417 739.5h1M425 739.5h4M525 739.5h2M623 739.5h1M641 739.5h3M890 739.5h1M938 739.5h5M962 739.5h1M964 739.5h2M1015 739.5h3M1021 739.5h2M18 740.5h1M23 740.5h3M75 740.5h17M103 740.5h1M408 740.5h1M415 740.5h2M527 740.5h3M622 740.5h1M891 740.5h1M935 740.5h3M943 740.5h5M961 740.5h1M966 740.5h1M1013 740.5h2M1023 740.5h3M17 741.5h1M26 741.5h5M75 741.5h1M92 741.5h2M102 741.5h1M409 741.5h1M414 741.5h1M530 741.5h2M622 741.5h1M892 741.5h2M933 741.5h2M948 741.5h2M959 741.5h2M967 741.5h2M1011 741.5h2M1026 741.5h2M16 742.5h1M31 742.5h8M74 742.5h1M94 742.5h2M101 742.5h1M410 742.5h1M413 742.5h1M532 742.5h2M621 742.5h1M894 742.5h2M930 742.5h3M950 742.5h1M958 742.5h1M969 742.5h2M1010 742.5h1M1028 742.5h1M16 743.5h1M39 743.5h5M74 743.5h1M96 743.5h2M100 743.5h1M410 743.5h1M412 743.5h1M534 743.5h1M610 743.5h3M620 743.5h1M896 743.5h2M928 743.5h2M951 743.5h2M957 743.5h1M971 743.5h1M1009 743.5h1M1028 743.5h1M15 744.5h1M44 744.5h1M73 744.5h1M98 744.5h2M411 744.5h1M535 744.5h2M607 744.5h3M613 744.5h4M620 744.5h1M898 744.5h2M926 744.5h2M953 744.5h2M956 744.5h1M972 744.5h1M1008 744.5h1M1029 744.5h1M14 745.5h1M45 745.5h1M73 745.5h1M537 745.5h2M605 745.5h2M617 745.5h3M900 745.5h1M915 745.5h4M924 745.5h2M955 745.5h1M972 745.5h1M1007 745.5h1M1030 745.5h1M14 746.5h1M46 746.5h1M72 746.5h1M539 746.5h1M599 746.5h6M900 746.5h1M914 746.5h1M919 746.5h5M973 746.5h1M1006 746.5h1M1030 746.5h1M13 747.5h1M47 747.5h1M72 747.5h1M540 747.5h1M593 747.5h6M901 747.5h1M913 747.5h1M974 747.5h1M1005 747.5h1M1031 747.5h1M12 748.5h1M47 748.5h1M71 748.5h1M540 748.5h1M589 748.5h4M902 748.5h1M913 748.5h1M975 748.5h1M1004 748.5h1M1032 748.5h1M12 749.5h1M48 749.5h1M58 749.5h2M71 749.5h1M541 749.5h1M587 749.5h2M903 749.5h1M912 749.5h1M975 749.5h1M1003 749.5h1M1032 749.5h1M9 750.5h3M49 750.5h1M55 750.5h3M60 750.5h1M70 750.5h1M541 750.5h1M563 750.5h4M585 750.5h2M903 750.5h1M911 750.5h1M976 750.5h1M1001 750.5h2M1033 750.5h1M5 751.5h4M50 751.5h1M53 751.5h2M61 751.5h1M70 751.5h1M542 751.5h1M562 751.5h1M567 751.5h6M583 751.5h2M904 751.5h1M910 751.5h1M977 751.5h1M1000 751.5h1M1034 751.5h1M1111 751.5h5M3 752.5h2M51 752.5h2M62 752.5h1M69 752.5h1M543 752.5h1M561 752.5h1M573 752.5h2M582 752.5h1M905 752.5h1M909 752.5h1M978 752.5h1M999 752.5h1M1034 752.5h1M1107 752.5h4M63 753.5h1M69 753.5h1M543 753.5h1M559 753.5h2M575 753.5h3M580 753.5h2M906 753.5h1M909 753.5h1M978 753.5h1M997 753.5h2M1035 753.5h4M1106 753.5h1M64 754.5h1M68 754.5h1M544 754.5h1M558 754.5h1M578 754.5h2M906 754.5h1M908 754.5h1M979 754.5h2M996 754.5h1M1039 754.5h5M1105 754.5h1M65 755.5h1M68 755.5h1M545 755.5h1M557 755.5h1M907 755.5h1M981 755.5h2M993 755.5h3M1044 755.5h1M1104 755.5h1M66 756.5h2M545 756.5h1M556 756.5h1M983 756.5h3M989 756.5h4M1045 756.5h1M1103 756.5h1M67 757.5h1M546 757.5h1M553 757.5h3M986 757.5h3M1046 757.5h1M1102 757.5h1M546 758.5h1M549 758.5h4M1047 758.5h1M1101 758.5h1M547 759.5h2M1047 759.5h1M1067 759.5h1M1091 759.5h4M1100 759.5h1M1048 760.5h1M1065 760.5h2M1068 760.5h2M1090 760.5h1M1095 760.5h5M1049 761.5h1M1063 761.5h2M1070 761.5h2M1089 761.5h1M1050 762.5h1M1062 762.5h1M1072 762.5h2M1088 762.5h1M1051 763.5h4M1060 763.5h2M1074 763.5h2M1087 763.5h1M1055 764.5h5M1076 764.5h2M1087 764.5h1M1078 765.5h1M1086 765.5h1M1079 766.5h2M1085 766.5h1M1081 767.5h2M1084 767.5h1M1083 768.5h1" fill="none" stroke="#1e90ff" stroke-width="1"/>
<rect x="2" y="25" width="1417" height="1" fill="#000"/>
<rect x="2" y="564" width="1417" height="1" fill="#000"/>
<rect x="2" y="25" width="1" height="540" fill="#000"/>
<rect x="1418" y="25" width="1" height="540" fill="#000"/>
<rect x="2" y="566" width="1417" height="1" fill="#000"/>
<rect x="2" y="669" width="1417" height="1" fill="#000"/>
<rect x="2" y="566" width="1" height="104" fill="#000"/>
<rect x="1418" y="566" width="1" height="104" fill="#000"/>
<rect x="2" y="671" width="1417" height="1" fill="#000"/>
<rect x="2" y="801" width="1417" height="1" fill="#000"/>
<rect x="2" y="671" width="1" height="131" fill="#000"/>
<rect x="1418" y="671" width="1" height="131" fill="#000"/>
<rect x="1419" y="33" width="3" height="1" fill="#000"/>
<rect x="1419" y="66" width="3" height="1" fill="#000"/>
<rect x="1419" y="99" width="3" height="1" fill="#000"/>
<rect x="1419" y="132" width="3" height="1" fill="#000"/>
<rect x="1419" y="165" width="3" height="1" fill="#000"/>
<rect x="1419" y="198" width="3" height="1" fill="#000"/>
<rect x="1419" y="231" width="3" height="1" fill="#000"/>
<rect x="1419" y="264" width="3" height="1" fill="#000"/>
<rect x="1419" y="297" width="3" height="1" fill="#000"/>
<rect x="1419" y="330" width="3" height="1" fill="#000"/>
<rect x="1419" y="363" width="3" height="1" fill="#000"/>
<rect x="1419" y="396" width="3" height="1" fill="#000"/>
<rect x="1419" y="429" width="3" height="1" fill="#000"/>
<rect x="1419" y="462" width="3" height="1" fill="#000"/>
<rect x="1419" y="495" width="3" height="1" fill="#000"/>
<rect x="1419" y="528" width="3" height="1" fill="#000"/>
<rect x="1419" y="561" width="3" height="1" fill="#000"/>
<rect x="1420" y="345" width="41" height="11" fill="#000"/>
<rect x="1419" y="618" width="3" height="1" fill="#000"/>
<rect x="3" y="802" width="1" height="3" fill="#000"/>
<rect x="67" y="802" width="1" height="3" fill="#000"/>
<rect x="131" y="802" width="1" height="3" fill="#000"/>
<rect x="195" y="802" width="1" height="3" fill="#000"/>
<rect x="259" y="802" width="1" height="3" fill="#000"/>
<rect x="323" y="802" width="1" height="3" fill="#000"/>
<rect x="387" y="802" width="1" height="3" fill="#000"/>
<rect x="451" y="802" width="1" height="3" fill="#000"/>
<rect x="515" y="802" width="1" height="3" fill="#000"/>
<rect x="579" y="802" width="1" height="3" fill="#000"/>
<rect x="643" y="802" width="1" height="3" fill="#000"/>
<rect x="707" y="802" width="1" height="3" fill="#000"/>
<rect x="771" y="802" width="1" height="3" fill="#000"/>
<rect x="835" y="802" width="1" height="3" fill="#000"/>
<rect x="899" y="802" width="1" height="3" fill="#000"/>
<rect x="963" y="802" width="1" height="3" fill="#000"/>
<rect x="1027" y="802" width="1" height="3" fill="#000"/>
<rect x="1091" y="802" width="1" height="3" fill="#000"/>
<polygon points="6,32 13,32 9.5,36" fill="#000"/>
<g text-rendering="geometricPrecision">
<text x="1424.5" y="37">1.02560</text>
<text x="1424.5" y="70">1.02220</text>
<text x="1424.5" y="103">1.01870</text>
<text x="1424.5" y="136">1.01530</text>
<text x="1424.5" y="169">1.01180</text>
<text x="1424.5" y="202">1.00840</text>
<text x="1424.5" y="235">1.00490</text>
<text x="1424.5" y="268">1.00150</text>
<text x="1424.5" y="301">0.99800</text>
<text x="1424.5" y="334">0.99460</text>
<text x="1424.5" y="367">0.99110</text>
<text x="1424.5" y="400">0.98770</text>
<text x="1424.5" y="433">0.98420</text>
<text x="1424.5" y="466">0.98080</text>
<text x="1424.5" y="499">0.97740</text>
<text x="1424.5" y="532">0.97390</text>
<text x="1424.5" y="565">0.97050</text>
<text x="1424.5" y="354" style="fill:#fff;stroke:none">0.99252</text>
<text x="1422" y="578">0.006058</text>
<text x="1422" y="622">0.00</text>
<text x="1422" y="667">-0.006096</text>
<text x="1422" y="683">100</text>
<text x="1421" y="714.5">70</text>
<text x="1421" y="765.5">30</text>
<text x="1421" y="797.5">0</text>
<text x="2" y="814" class="dt">31 Dec 2018</text>
<text x="66" y="814" class="dt">9 Jan 2019</text>
<text x="130" y="814" class="dt">18 Jan 2019</text>
<text x="194" y="814" class="dt">28 Jan 2019</text>
<text x="258" y="814" class="dt">6 Feb 2019</text>
<text x="322" y="814" class="dt">15 Feb 2019</text>
<text x="386" y="814" class="dt">25 Feb 2019</text>
<text x="450" y="814" class="dt">6 Mar 2019</text>
<text x="514" y="814" class="dt">15 Mar 2019</text>
<text x="578" y="814" class="dt">25 Mar 2019</text>
<text x="642" y="814" class="dt">3 Apr 2019</text>
<text x="706" y="814" class="dt">12 Apr 2019</text>
<text x="770" y="814" class="dt">23 Apr 2019</text>
<text x="834" y="814" class="dt">2 May 2019</text>
<text x="898" y="814" class="dt">12 May 2019</text>
<text x="962" y="814" class="dt">21 May 2019</text>
<text x="1026" y="814" class="dt">30 May 2019</text>
<text x="1090" y="814" class="dt">9 Jun 2019</text>
<text x="18.3" y="37" style="font-size:9.7px">USDCHF-,Daily</text>
<text x="91.6" y="37">0.99236 0.99267 0.99229 0.99252</text>
<text x="7" y="579" style="font-size:9.4px">MACD(12,26,9) -0.005105 -0.004724</text>
<text x="7" y="684">RSI(14) 38.3352</text>
</g>
</svg>
<div id="bot1"></div><div id="bot2"></div>
<div id="tabs">
<span class="tab" style="left:15px">EURUSD-,Daily</span>
<div class="tsep" style="left:112px"></div>
<span class="tab" style="left:122px">AUDUSD-,Daily</span>
<span class="tab" style="left:339px">USDCAD-,Daily</span>
<div class="tsep" style="left:436px"></div>
<span class="tab" style="left:448px">USDCNH-,Daily</span>
<div class="tsep" style="left:548px"></div>
<span class="tab" style="left:559px">EURCHF-,Weekly</span>
<div class="tsep" style="left:668px"></div>
</div>
<div id="act"><span class="tab" style="left:11px;top:4px;color:#000">USDCHF-,Daily</span></div>
<div class="arr" style="left:1434px;border-right:3px solid #999"></div>
<div class="arr" style="left:1453px;border-left:3px solid #999"></div>
</body></html>
